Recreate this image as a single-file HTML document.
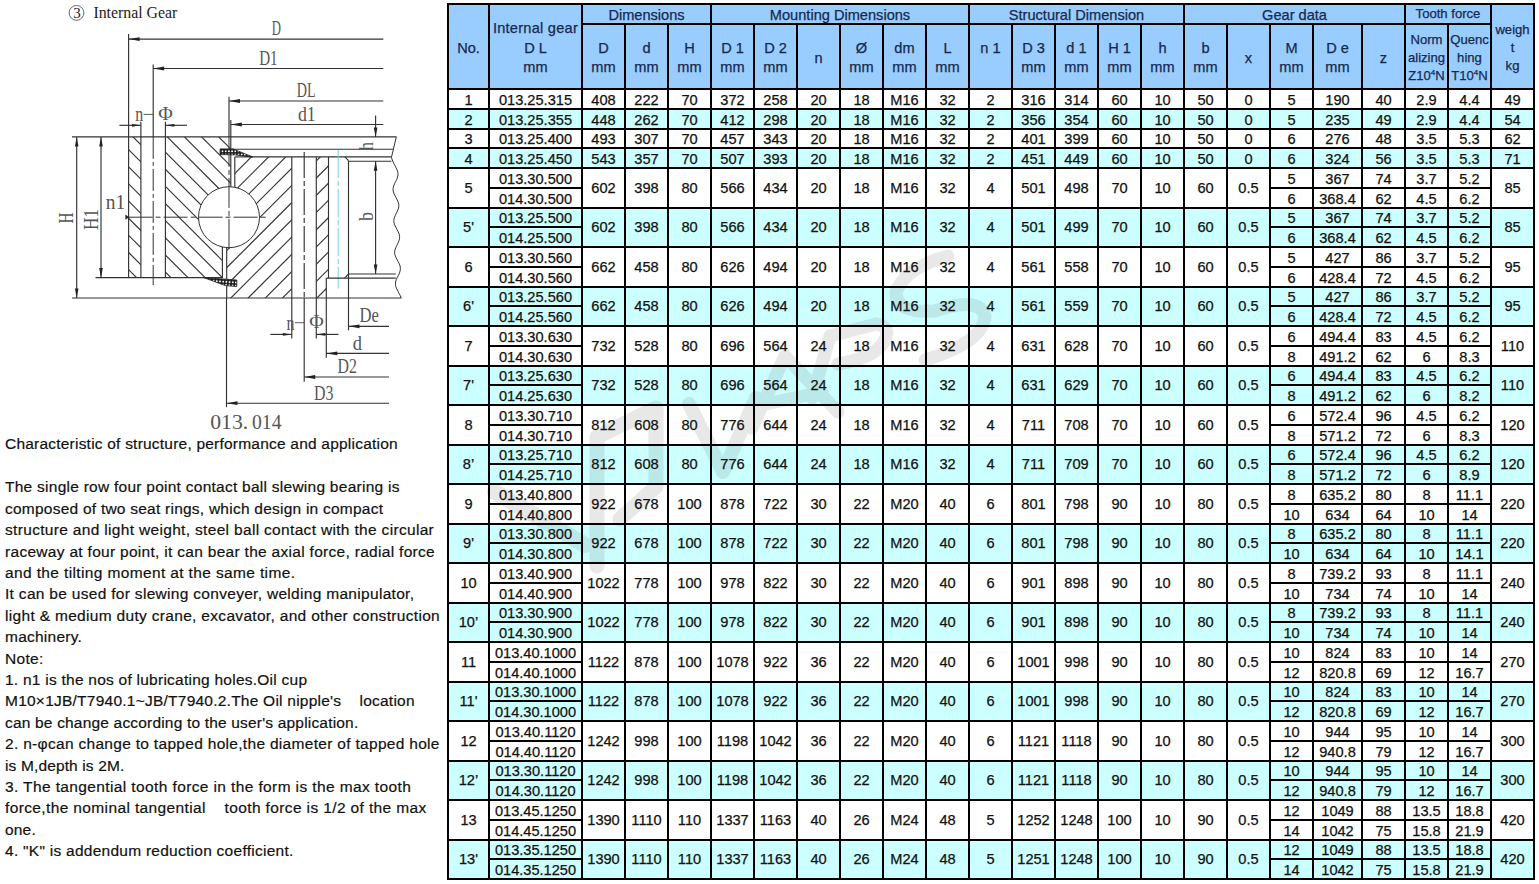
<!DOCTYPE html>
<html><head><meta charset="utf-8"><title>Internal Gear</title>
<style>
html,body{margin:0;padding:0;background:#fff}
body{width:1539px;height:884px;position:relative;overflow:hidden;font-family:"Liberation Sans",sans-serif}
.r{position:absolute}
.c,.h{position:absolute;text-align:center;white-space:nowrap;font-size:14.6px;color:#111;overflow:visible;-webkit-text-stroke:0.25px}
.h{color:#17294b;font-size:14.6px}
.s{font-size:13.1px}
.h sup{font-size:8px;line-height:0;vertical-align:5px}
.p{position:absolute;left:5px;white-space:nowrap;font-size:15.5px;line-height:21.4px;color:#111;-webkit-text-stroke:0.2px}
svg{position:absolute;left:0;top:0}
</style></head><body>
<svg width="447" height="440" viewBox="0 0 447 440"><defs>
<clipPath id="co"><path d="M165.4,136.9 L230.8,136.9 L230.8,186.75 A30.5,30.5 0 0 0 222.4,246.98 L222.4,277.6 L165.4,277.6 Z"/><rect x="128.6" y="136.9" width="12.300000000000011" height="140.70000000000002"/></clipPath>
<clipPath id="ci"><path d="M234.8,156.9 L291.8,156.9 L291.8,298.0 L226.7,298.0 L226.7,247.61 A30.5,30.5 0 0 0 234.8,187.26 Z"/><path d="M316.3,156.9 L328.5,156.9 L328.5,278.1 L326.3,278.1 L326.3,298.0 L316.3,298.0 Z"/></clipPath>
<pattern id="xh" width="3.2" height="3.2" patternUnits="userSpaceOnUse" patternTransform="translate(220.9,149.7)"><rect width="3.2" height="3.2" fill="#1a1a1a"/><circle cx="1.6" cy="1.6" r="0.95" fill="#fff"/></pattern>
<pattern id="xh2" width="3.2" height="3.2" patternUnits="userSpaceOnUse" patternTransform="translate(218.5,279.7) rotate(4)"><rect width="3.2" height="3.2" fill="#1a1a1a"/><circle cx="1.6" cy="1.6" r="0.95" fill="#fff"/></pattern>
</defs>
<g clip-path="url(#co)" stroke="#333" stroke-width="1.15"><line x1="100" y1="-33.2" x2="260" y2="126.8"/><line x1="100" y1="-16.1" x2="260" y2="143.9"/><line x1="100" y1="1.1" x2="260" y2="161.1"/><line x1="100" y1="18.2" x2="260" y2="178.2"/><line x1="100" y1="35.3" x2="260" y2="195.3"/><line x1="100" y1="52.5" x2="260" y2="212.5"/><line x1="100" y1="69.6" x2="260" y2="229.6"/><line x1="100" y1="86.8" x2="260" y2="246.8"/><line x1="100" y1="103.9" x2="260" y2="263.9"/><line x1="100" y1="121.0" x2="260" y2="281.0"/><line x1="100" y1="138.2" x2="260" y2="298.2"/><line x1="100" y1="155.3" x2="260" y2="315.3"/><line x1="100" y1="172.5" x2="260" y2="332.5"/><line x1="100" y1="189.6" x2="260" y2="349.6"/><line x1="100" y1="206.7" x2="260" y2="366.7"/><line x1="100" y1="223.9" x2="260" y2="383.9"/><line x1="100" y1="241.0" x2="260" y2="401.0"/><line x1="100" y1="258.2" x2="260" y2="418.2"/></g>
<g clip-path="url(#ci)" stroke="#333" stroke-width="1.15"><line x1="200" y1="173.9" x2="340" y2="33.9"/><line x1="200" y1="191.1" x2="340" y2="51.1"/><line x1="200" y1="208.3" x2="340" y2="68.3"/><line x1="200" y1="225.5" x2="340" y2="85.5"/><line x1="200" y1="242.7" x2="340" y2="102.7"/><line x1="200" y1="260.0" x2="340" y2="120.0"/><line x1="200" y1="277.2" x2="340" y2="137.2"/><line x1="200" y1="294.4" x2="340" y2="154.4"/><line x1="200" y1="311.6" x2="340" y2="171.6"/><line x1="200" y1="328.8" x2="340" y2="188.8"/><line x1="200" y1="346.1" x2="340" y2="206.1"/><line x1="200" y1="363.3" x2="340" y2="223.3"/><line x1="200" y1="380.5" x2="340" y2="240.5"/><line x1="200" y1="397.7" x2="340" y2="257.7"/><line x1="200" y1="414.9" x2="340" y2="274.9"/><line x1="200" y1="432.2" x2="340" y2="292.2"/><line x1="200" y1="449.4" x2="340" y2="309.4"/><line x1="200" y1="466.6" x2="340" y2="326.6"/></g>
<line x1="72" y1="136.9" x2="396.5" y2="136.9" stroke="#333" stroke-width="1.15" />
<line x1="72" y1="298.0" x2="401.5" y2="298.0" stroke="#333" stroke-width="1.15" />
<line x1="95.5" y1="277.6" x2="222.9" y2="277.6" stroke="#333" stroke-width="1.15" />
<line x1="128.6" y1="34" x2="128.6" y2="277.6" stroke="#333" stroke-width="1.15" />
<line x1="140.9" y1="121.7" x2="140.9" y2="277.6" stroke="#333" stroke-width="1.15" />
<line x1="165.4" y1="121.7" x2="165.4" y2="277.6" stroke="#333" stroke-width="1.15" />
<line x1="153.2" y1="64.4" x2="153.2" y2="136.9" stroke="#333" stroke-width="1.15" />
<line x1="153.2" y1="136.9" x2="153.2" y2="285" stroke="#333" stroke-width="1" stroke-dasharray="22 3 4 3"/>
<line x1="230.8" y1="119.9" x2="230.8" y2="186.75316108361986" stroke="#333" stroke-width="1.15" />
<line x1="234.8" y1="156.9" x2="234.8" y2="187.25655330460435" stroke="#333" stroke-width="1.15" />
<line x1="222.4" y1="246.97734037821377" x2="222.4" y2="277.6" stroke="#333" stroke-width="1.15" />
<line x1="226.7" y1="247.61315504843256" x2="226.7" y2="298.0" stroke="#333" stroke-width="1.15" />
<circle cx="229.0" cy="217.2" r="30.5" fill="none" stroke="#333" stroke-width="1"/>
<line x1="128.6" y1="217.2" x2="267" y2="217.2" stroke="#333" stroke-width="1" stroke-dasharray="24 3 5 3"/>
<line x1="229.0" y1="96.7" x2="229.0" y2="136.9" stroke="#333" stroke-width="1.15" />
<line x1="229.0" y1="136.9" x2="229.0" y2="250" stroke="#333" stroke-width="1" stroke-dasharray="30 3 5 3"/>
<line x1="226.5" y1="298.0" x2="226.5" y2="407" stroke="#333" stroke-width="1.15" />
<line x1="251" y1="156.9" x2="391.4" y2="156.9" stroke="#333" stroke-width="1.15" />
<line x1="234.8" y1="156.9" x2="251" y2="156.9" stroke="#333" stroke-width="1.15" />
<line x1="291.8" y1="156.9" x2="291.8" y2="338.4" stroke="#333" stroke-width="1.15" />
<line x1="316.3" y1="156.9" x2="316.3" y2="338.4" stroke="#333" stroke-width="1.15" />
<line x1="304.2" y1="152" x2="304.2" y2="298.0" stroke="#333" stroke-width="1.15" stroke-dasharray="26 3 5 3"/>
<line x1="304.2" y1="298.0" x2="304.2" y2="381.8" stroke="#333" stroke-width="1.15" />
<line x1="328.5" y1="156.9" x2="328.5" y2="278.1" stroke="#333" stroke-width="1.15" />
<line x1="326.3" y1="278.1" x2="326.3" y2="357.8" stroke="#333" stroke-width="1.15" />
<line x1="338.2" y1="150" x2="338.2" y2="288.5" stroke="#6fd6e6" stroke-width="1" stroke-dasharray="28 3 5 3"/>
<line x1="345" y1="156.9" x2="348.5" y2="160.6" stroke="#333" stroke-width="1.15" />
<line x1="348.5" y1="160.6" x2="348.5" y2="330.3" stroke="#333" stroke-width="1.15" />
<line x1="348.5" y1="161.2" x2="391.4" y2="161.2" stroke="#333" stroke-width="1.15" />
<line x1="232" y1="149.2" x2="393.2" y2="149.2" stroke="#333" stroke-width="1.15" />
<line x1="348.5" y1="274" x2="395.8" y2="274" stroke="#333" stroke-width="1.15" />
<line x1="326.3" y1="278.1" x2="395.8" y2="278.1" stroke="#333" stroke-width="1.15" />
<line x1="344.6" y1="278.1" x2="348.5" y2="274" stroke="#333" stroke-width="1.15" />
<polyline points="396.3,136.9 393.4,149.2 391.4,157.5 392.7,161.0 393.7,163.3 394.9,165.6 396.1,167.8 397.2,170.1 397.9,172.4 398.0,174.7 397.6,177.0 396.8,179.3 395.6,181.6 394.5,183.8 393.6,186.1 393.1,188.4 393.1,190.7 393.7,193.0 394.7,195.2 396.0,197.5 397.2,199.8 398.2,202.1 398.8,204.4 398.8,206.7 398.3,208.9 397.3,211.2 396.2,213.5 395.1,215.8 394.2,218.1 393.8,220.4 394.0,222.7 394.7,224.9 395.8,227.2 397.0,229.5 398.2,231.8 399.2,234.1 399.6,236.4 399.5,238.6 398.9,240.9 397.9,243.2 396.8,245.5 395.7,247.8 394.9,250.1 394.6,252.3 394.9,254.6 395.7,256.9 396.8,259.2 398.1,261.5 399.3,263.8 400.1,266.0 400.4,268.3 400.2,270.6 399.5,272.9 398.5,275.2 397.3,277.4 396.3,279.7 395.6,282.0 395.5,284.3 395.8,286.6 396.7,288.9 397.9,291.1 399.1,293.4 400.3,295.7 401.0,298.0" fill="none" stroke="#333" stroke-width="1"/>
<path d="M220.1,148.9 L233,148.9 L252.7,156.9 L245,156.2 L235.7,154.9 L220.1,154.5 Z" fill="url(#xh)" stroke="#1a1a1a" stroke-width="0.8"/>
<path d="M203.6,277.6 L220.5,278.8 L236.8,280 L236.8,286.5 L225.3,285.6 Z" fill="url(#xh2)" stroke="#1a1a1a" stroke-width="0.8"/>
<line x1="76.7" y1="136.9" x2="76.7" y2="298.0" stroke="#333" stroke-width="1.15" />
<polygon points="76.7,136.9 74.9,146.4 78.5,146.4" fill="#222"/>
<polygon points="76.7,298.0 74.9,288.5 78.5,288.5" fill="#222"/>
<line x1="101" y1="136.9" x2="101" y2="277.6" stroke="#333" stroke-width="1.15" />
<polygon points="101,136.9 99.2,146.4 102.8,146.4" fill="#222"/>
<polygon points="101,277.6 99.2,268.1 102.8,268.1" fill="#222"/>
<line x1="128.6" y1="39.1" x2="383.3" y2="39.1" stroke="#333" stroke-width="1.15" />
<polygon points="128.6,39.1 139.6,37.2 139.6,41.0" fill="#222"/>
<line x1="153.2" y1="68.5" x2="383.3" y2="68.5" stroke="#333" stroke-width="1.15" />
<polygon points="153.2,68.5 164.2,66.6 164.2,70.4" fill="#222"/>
<line x1="229.0" y1="101" x2="383.3" y2="101" stroke="#333" stroke-width="1.15" />
<polygon points="229.0,101 240.0,99.1 240.0,102.9" fill="#222"/>
<line x1="230.8" y1="124.5" x2="383.3" y2="124.5" stroke="#333" stroke-width="1.15" />
<polygon points="230.8,124.5 241.8,122.6 241.8,126.4" fill="#222"/>
<line x1="375.6" y1="115.5" x2="375.6" y2="136.9" stroke="#333" stroke-width="1.15" />
<polygon points="375.6,136.9 373.8,127.4 377.40000000000003,127.4" fill="#222"/>
<line x1="375.6" y1="161.2" x2="375.6" y2="274" stroke="#333" stroke-width="1.15" />
<polygon points="375.6,161.2 373.8,170.7 377.40000000000003,170.7" fill="#222"/>
<polygon points="375.6,274 373.8,264.5 377.40000000000003,264.5" fill="#222"/>
<line x1="119.4" y1="125.3" x2="140.9" y2="125.3" stroke="#333" stroke-width="1.15" />
<polygon points="140.9,125.3 131.9,123.89999999999999 131.9,126.7" fill="#222"/>
<line x1="165.4" y1="125.3" x2="187" y2="125.3" stroke="#333" stroke-width="1.15" />
<polygon points="165.4,125.3 174.4,123.89999999999999 174.4,126.7" fill="#222"/>
<line x1="143.5" y1="114.4" x2="153" y2="114.4" stroke="#333" stroke-width="0.8" />
<line x1="270.3" y1="334.4" x2="291.8" y2="334.4" stroke="#333" stroke-width="1.15" />
<polygon points="291.8,334.4 282.8,333.0 282.8,335.79999999999995" fill="#222"/>
<line x1="316.3" y1="334.4" x2="338.5" y2="334.4" stroke="#333" stroke-width="1.15" />
<polygon points="316.3,334.4 325.3,333.0 325.3,335.79999999999995" fill="#222"/>
<line x1="295" y1="322.7" x2="304" y2="322.7" stroke="#333" stroke-width="0.8" />
<line x1="348.5" y1="326.3" x2="389" y2="326.3" stroke="#333" stroke-width="1.15" />
<polygon points="348.5,326.3 359.5,324.40000000000003 359.5,328.2" fill="#222"/>
<line x1="326.3" y1="353.4" x2="389" y2="353.4" stroke="#333" stroke-width="1.15" />
<polygon points="326.3,353.4 337.3,351.5 337.3,355.29999999999995" fill="#222"/>
<line x1="304.2" y1="377" x2="389" y2="377" stroke="#333" stroke-width="1.15" />
<polygon points="304.2,377 315.2,375.1 315.2,378.9" fill="#222"/>
<line x1="226.5" y1="403.2" x2="389" y2="403.2" stroke="#333" stroke-width="1.15" />
<polygon points="226.5,403.2 237.5,401.3 237.5,405.09999999999997" fill="#222"/>
<polygon points="129.1,217.2 125.39999999999999,214.6 125.39999999999999,219.79999999999998" fill="#222"/>
<text x="271.7" y="34.6" font-family="Liberation Serif" font-size="20" fill="#555" text-anchor="start" textLength="9.2" lengthAdjust="spacingAndGlyphs">D</text>
<text x="259.2" y="64.8" font-family="Liberation Serif" font-size="20" fill="#555" text-anchor="start" textLength="18.4" lengthAdjust="spacingAndGlyphs">D1</text>
<text x="296.8" y="97.1" font-family="Liberation Serif" font-size="20" fill="#555" text-anchor="start" textLength="18.8" lengthAdjust="spacingAndGlyphs">DL</text>
<text x="297.9" y="121" font-family="Liberation Serif" font-size="20" fill="#555" text-anchor="start" textLength="17.8" lengthAdjust="spacingAndGlyphs">d1</text>
<text x="135.3" y="120.5" font-family="Liberation Serif" font-size="20" fill="#555" text-anchor="start" textLength="8" lengthAdjust="spacingAndGlyphs">n</text>
<text x="158.3" y="120" font-family="Liberation Serif" font-size="19" fill="#555" text-anchor="start" textLength="14.5" lengthAdjust="spacingAndGlyphs">Φ</text>
<text x="286.6" y="330" font-family="Liberation Serif" font-size="20" fill="#555" text-anchor="start" textLength="8" lengthAdjust="spacingAndGlyphs">n</text>
<text x="309.2" y="328.3" font-family="Liberation Serif" font-size="19" fill="#555" text-anchor="start" textLength="14.5" lengthAdjust="spacingAndGlyphs">Φ</text>
<text x="359.5" y="322.1" font-family="Liberation Serif" font-size="20" fill="#555" text-anchor="start" textLength="19.4" lengthAdjust="spacingAndGlyphs">De</text>
<text x="352.8" y="349.6" font-family="Liberation Serif" font-size="20" fill="#555" text-anchor="start" textLength="9.2" lengthAdjust="spacingAndGlyphs">d</text>
<text x="337.5" y="373" font-family="Liberation Serif" font-size="20" fill="#555" text-anchor="start" textLength="19.4" lengthAdjust="spacingAndGlyphs">D2</text>
<text x="314" y="399.5" font-family="Liberation Serif" font-size="20" fill="#555" text-anchor="start" textLength="19.4" lengthAdjust="spacingAndGlyphs">D3</text>
<text x="105.8" y="209" font-family="Liberation Serif" font-size="20" fill="#555" text-anchor="start" textLength="19.5" lengthAdjust="spacingAndGlyphs">n1</text>
<text x="210.2" y="428.7" font-family="Liberation Serif" font-size="20" fill="#555" text-anchor="start" textLength="38" lengthAdjust="spacingAndGlyphs">013.</text>
<text x="252" y="428.7" font-family="Liberation Serif" font-size="20" fill="#555" text-anchor="start" textLength="29.5" lengthAdjust="spacingAndGlyphs">014</text>
<text x="72.6" y="223.5" font-family="Liberation Serif" font-size="20" fill="#555" text-anchor="start" textLength="11" lengthAdjust="spacingAndGlyphs" transform="rotate(-90 72.6 223.5)">H</text>
<text x="97.5" y="230" font-family="Liberation Serif" font-size="20" fill="#555" text-anchor="start" textLength="21" lengthAdjust="spacingAndGlyphs" transform="rotate(-90 97.5 230)">H1</text>
<text x="372.5" y="221" font-family="Liberation Serif" font-size="20" fill="#555" text-anchor="start" textLength="9" lengthAdjust="spacingAndGlyphs" transform="rotate(-90 372.5 221)">b</text>
<text x="372.8" y="150.5" font-family="Liberation Serif" font-size="20" fill="#555" text-anchor="start" textLength="8.5" lengthAdjust="spacingAndGlyphs" transform="rotate(-90 372.8 150.5)">h</text>
<circle cx="76.5" cy="12.9" r="7.4" fill="none" stroke="#444" stroke-width="0.8"/>
<text x="76.9" y="17.9" font-family="Liberation Serif" font-size="15" fill="#222" text-anchor="middle">3</text>
<text x="93.4" y="17.8" font-family="Liberation Serif" font-size="16" fill="#222" text-anchor="start" textLength="84" lengthAdjust="spacingAndGlyphs">Internal Gear</text></svg>
<div class="p" id="p0" style="top:433.3px;letter-spacing:0.215px">Characteristic of structure, performance and application</div>
<div class="p" id="p1" style="top:476.3px;letter-spacing:0.258px">The single row four point contact ball slewing bearing is</div>
<div class="p" id="p2" style="top:497.7px;letter-spacing:0.237px">composed of two seat rings, which design in compact</div>
<div class="p" id="p3" style="top:519.1px;letter-spacing:0.324px">structure and light weight, steel ball contact with the circular</div>
<div class="p" id="p4" style="top:540.5px;letter-spacing:0.297px">raceway at four point, it can bear the axial force, radial force</div>
<div class="p" id="p5" style="top:561.9px;letter-spacing:0.367px">and the tilting moment at the same time.</div>
<div class="p" id="p6" style="top:583.3px;letter-spacing:0.303px">It can be used for slewing conveyer, welding manipulator,</div>
<div class="p" id="p7" style="top:604.7px;letter-spacing:0.315px">light &amp; medium duty crane, excavator, and other construction</div>
<div class="p" id="p8" style="top:626.1px;letter-spacing:0.238px">machinery.</div>
<div class="p" id="p9" style="top:647.5px;letter-spacing:0.310px">Note:</div>
<div class="p" id="p10" style="top:668.9px;letter-spacing:0.245px">1. n1 is the nos of lubricating holes.Oil cup</div>
<div class="p" id="p11" style="top:690.3px;letter-spacing:0.238px">M10×1JB/T7940.1~JB/T7940.2.The Oil nipple's&nbsp;&nbsp;&nbsp; location</div>
<div class="p" id="p12" style="top:711.7px;letter-spacing:0.184px">can be change according to the user's application.</div>
<div class="p" id="p13" style="top:733.1px;letter-spacing:0.305px">2. n-φcan change to tapped hole,the diameter of tapped hole</div>
<div class="p" id="p14" style="top:754.5px;letter-spacing:0.134px">is M,depth is 2M.</div>
<div class="p" id="p15" style="top:775.9px;letter-spacing:0.382px">3. The tangential tooth force in the form is the max tooth</div>
<div class="p" id="p16" style="top:797.3px;letter-spacing:0.373px">force,the nominal tangential&nbsp;&nbsp;&nbsp; tooth force is 1/2 of the max</div>
<div class="p" id="p17" style="top:818.7px;letter-spacing:0.176px">one.</div>
<div class="p" id="p18" style="top:840.1px;letter-spacing:0.262px">4. "K" is addendum reduction coefficient.</div>
<div class="r" style="left:447px;top:3px;width:1088px;height:85px;background:#99ccff"></div>
<div class="r" style="left:447px;top:88px;width:1088px;height:20px;background:#ffffff"></div>
<div class="r" style="left:447px;top:108px;width:1088px;height:20px;background:#ccffff"></div>
<div class="r" style="left:447px;top:128px;width:1088px;height:19px;background:#ffffff"></div>
<div class="r" style="left:447px;top:147px;width:1088px;height:20px;background:#ccffff"></div>
<div class="r" style="left:447px;top:167px;width:1088px;height:40px;background:#ffffff"></div>
<div class="r" style="left:447px;top:207px;width:1088px;height:39px;background:#ccffff"></div>
<div class="r" style="left:447px;top:246px;width:1088px;height:40px;background:#ffffff"></div>
<div class="r" style="left:447px;top:286px;width:1088px;height:39px;background:#ccffff"></div>
<div class="r" style="left:447px;top:325px;width:1088px;height:40px;background:#ffffff"></div>
<div class="r" style="left:447px;top:365px;width:1088px;height:39px;background:#ccffff"></div>
<div class="r" style="left:447px;top:404px;width:1088px;height:40px;background:#ffffff"></div>
<div class="r" style="left:447px;top:444px;width:1088px;height:39px;background:#ccffff"></div>
<div class="r" style="left:447px;top:483px;width:1088px;height:40px;background:#ffffff"></div>
<div class="r" style="left:447px;top:523px;width:1088px;height:39px;background:#ccffff"></div>
<div class="r" style="left:447px;top:562px;width:1088px;height:40px;background:#ffffff"></div>
<div class="r" style="left:447px;top:602px;width:1088px;height:39px;background:#ccffff"></div>
<div class="r" style="left:447px;top:641px;width:1088px;height:40px;background:#ffffff"></div>
<div class="r" style="left:447px;top:681px;width:1088px;height:39px;background:#ccffff"></div>
<div class="r" style="left:447px;top:720px;width:1088px;height:40px;background:#ffffff"></div>
<div class="r" style="left:447px;top:760px;width:1088px;height:39px;background:#ccffff"></div>
<div class="r" style="left:447px;top:799px;width:1088px;height:40px;background:#ffffff"></div>
<div class="r" style="left:447px;top:839px;width:1088px;height:39px;background:#ccffff"></div>
<svg width="1539" height="884" viewBox="0 0 1539 884" style="pointer-events:none"><g opacity="0.115" fill="none" stroke="#404040" stroke-linecap="round" stroke-linejoin="round"><path d="M495,492 L585,545" stroke-width="16"/><path d="M597,566 L597,437 L656,408 L656,487 L620,519" stroke-width="15"/><path d="M689,404 L723,472 L756,398" stroke-width="14"/><path d="M752,428 L785,356 L838,412 M766,404 L822,392" stroke-width="13"/><path d="M812,398 L830,336 L876,324 Q892,326 884,342 Q874,358 838,364" stroke-width="13"/><path d="M948,256 Q905,268 896,292 Q896,314 935,311 Q980,296 985,316 Q984,342 925,360" stroke-width="13"/></g></svg>
<div class="r" style="left:447px;top:3px;width:1088px;height:2px;background:#000"></div>
<div class="r" style="left:581px;top:23px;width:909px;height:2px;background:#000"></div>
<div class="r" style="left:447px;top:88px;width:1088px;height:2px;background:#000"></div>
<div class="r" style="left:447px;top:108px;width:1088px;height:2px;background:#000"></div>
<div class="r" style="left:447px;top:128px;width:1088px;height:2px;background:#000"></div>
<div class="r" style="left:447px;top:147px;width:1088px;height:2px;background:#000"></div>
<div class="r" style="left:447px;top:167px;width:1088px;height:2px;background:#000"></div>
<div class="r" style="left:488px;top:187px;width:93px;height:2px;background:#000"></div>
<div class="r" style="left:1269px;top:187px;width:221px;height:2px;background:#000"></div>
<div class="r" style="left:447px;top:207px;width:1088px;height:2px;background:#000"></div>
<div class="r" style="left:488px;top:226px;width:93px;height:2px;background:#000"></div>
<div class="r" style="left:1269px;top:226px;width:221px;height:2px;background:#000"></div>
<div class="r" style="left:447px;top:246px;width:1088px;height:2px;background:#000"></div>
<div class="r" style="left:488px;top:266px;width:93px;height:2px;background:#000"></div>
<div class="r" style="left:1269px;top:266px;width:221px;height:2px;background:#000"></div>
<div class="r" style="left:447px;top:286px;width:1088px;height:2px;background:#000"></div>
<div class="r" style="left:488px;top:305px;width:93px;height:2px;background:#000"></div>
<div class="r" style="left:1269px;top:305px;width:221px;height:2px;background:#000"></div>
<div class="r" style="left:447px;top:325px;width:1088px;height:2px;background:#000"></div>
<div class="r" style="left:488px;top:345px;width:93px;height:2px;background:#000"></div>
<div class="r" style="left:1269px;top:345px;width:221px;height:2px;background:#000"></div>
<div class="r" style="left:447px;top:365px;width:1088px;height:2px;background:#000"></div>
<div class="r" style="left:488px;top:384px;width:93px;height:2px;background:#000"></div>
<div class="r" style="left:1269px;top:384px;width:221px;height:2px;background:#000"></div>
<div class="r" style="left:447px;top:404px;width:1088px;height:2px;background:#000"></div>
<div class="r" style="left:488px;top:424px;width:93px;height:2px;background:#000"></div>
<div class="r" style="left:1269px;top:424px;width:221px;height:2px;background:#000"></div>
<div class="r" style="left:447px;top:444px;width:1088px;height:2px;background:#000"></div>
<div class="r" style="left:488px;top:463px;width:93px;height:2px;background:#000"></div>
<div class="r" style="left:1269px;top:463px;width:221px;height:2px;background:#000"></div>
<div class="r" style="left:447px;top:483px;width:1088px;height:2px;background:#000"></div>
<div class="r" style="left:488px;top:503px;width:93px;height:2px;background:#000"></div>
<div class="r" style="left:1269px;top:503px;width:221px;height:2px;background:#000"></div>
<div class="r" style="left:447px;top:523px;width:1088px;height:2px;background:#000"></div>
<div class="r" style="left:488px;top:542px;width:93px;height:2px;background:#000"></div>
<div class="r" style="left:1269px;top:542px;width:221px;height:2px;background:#000"></div>
<div class="r" style="left:447px;top:562px;width:1088px;height:2px;background:#000"></div>
<div class="r" style="left:488px;top:582px;width:93px;height:2px;background:#000"></div>
<div class="r" style="left:1269px;top:582px;width:221px;height:2px;background:#000"></div>
<div class="r" style="left:447px;top:602px;width:1088px;height:2px;background:#000"></div>
<div class="r" style="left:488px;top:621px;width:93px;height:2px;background:#000"></div>
<div class="r" style="left:1269px;top:621px;width:221px;height:2px;background:#000"></div>
<div class="r" style="left:447px;top:641px;width:1088px;height:2px;background:#000"></div>
<div class="r" style="left:488px;top:661px;width:93px;height:2px;background:#000"></div>
<div class="r" style="left:1269px;top:661px;width:221px;height:2px;background:#000"></div>
<div class="r" style="left:447px;top:681px;width:1088px;height:2px;background:#000"></div>
<div class="r" style="left:488px;top:700px;width:93px;height:2px;background:#000"></div>
<div class="r" style="left:1269px;top:700px;width:221px;height:2px;background:#000"></div>
<div class="r" style="left:447px;top:720px;width:1088px;height:2px;background:#000"></div>
<div class="r" style="left:488px;top:740px;width:93px;height:2px;background:#000"></div>
<div class="r" style="left:1269px;top:740px;width:221px;height:2px;background:#000"></div>
<div class="r" style="left:447px;top:760px;width:1088px;height:2px;background:#000"></div>
<div class="r" style="left:488px;top:779px;width:93px;height:2px;background:#000"></div>
<div class="r" style="left:1269px;top:779px;width:221px;height:2px;background:#000"></div>
<div class="r" style="left:447px;top:799px;width:1088px;height:2px;background:#000"></div>
<div class="r" style="left:488px;top:819px;width:93px;height:2px;background:#000"></div>
<div class="r" style="left:1269px;top:819px;width:221px;height:2px;background:#000"></div>
<div class="r" style="left:447px;top:839px;width:1088px;height:2px;background:#000"></div>
<div class="r" style="left:488px;top:858px;width:93px;height:2px;background:#000"></div>
<div class="r" style="left:1269px;top:858px;width:221px;height:2px;background:#000"></div>
<div class="r" style="left:447px;top:878px;width:1088px;height:2px;background:#000"></div>
<div class="r" style="left:447px;top:3px;width:2px;height:877px;background:#000"></div>
<div class="r" style="left:488px;top:3px;width:2px;height:877px;background:#000"></div>
<div class="r" style="left:581px;top:3px;width:2px;height:877px;background:#000"></div>
<div class="r" style="left:624px;top:23px;width:2px;height:857px;background:#000"></div>
<div class="r" style="left:667px;top:23px;width:2px;height:857px;background:#000"></div>
<div class="r" style="left:710px;top:3px;width:2px;height:877px;background:#000"></div>
<div class="r" style="left:753px;top:23px;width:2px;height:857px;background:#000"></div>
<div class="r" style="left:796px;top:23px;width:2px;height:857px;background:#000"></div>
<div class="r" style="left:839px;top:23px;width:2px;height:857px;background:#000"></div>
<div class="r" style="left:882px;top:23px;width:2px;height:857px;background:#000"></div>
<div class="r" style="left:925px;top:23px;width:2px;height:857px;background:#000"></div>
<div class="r" style="left:968px;top:3px;width:2px;height:877px;background:#000"></div>
<div class="r" style="left:1011px;top:23px;width:2px;height:857px;background:#000"></div>
<div class="r" style="left:1054px;top:23px;width:2px;height:857px;background:#000"></div>
<div class="r" style="left:1097px;top:23px;width:2px;height:857px;background:#000"></div>
<div class="r" style="left:1140px;top:23px;width:2px;height:857px;background:#000"></div>
<div class="r" style="left:1183px;top:3px;width:2px;height:877px;background:#000"></div>
<div class="r" style="left:1226px;top:23px;width:2px;height:857px;background:#000"></div>
<div class="r" style="left:1269px;top:23px;width:2px;height:857px;background:#000"></div>
<div class="r" style="left:1312px;top:23px;width:2px;height:857px;background:#000"></div>
<div class="r" style="left:1361px;top:23px;width:2px;height:857px;background:#000"></div>
<div class="r" style="left:1404px;top:3px;width:2px;height:877px;background:#000"></div>
<div class="r" style="left:1447px;top:23px;width:2px;height:857px;background:#000"></div>
<div class="r" style="left:1490px;top:3px;width:2px;height:877px;background:#000"></div>
<div class="r" style="left:1533px;top:3px;width:2px;height:877px;background:#000"></div>
<div class="h" style="left:583px;top:6px;width:127px;height:18px;line-height:18px">Dimensions</div>
<div class="h" style="left:712px;top:6px;width:256px;height:18px;line-height:18px">Mounting Dimensions</div>
<div class="h" style="left:970px;top:6px;width:213px;height:18px;line-height:18px">Structural Dimension</div>
<div class="h" style="left:1185px;top:6px;width:219px;height:18px;line-height:18px">Gear data</div>
<div class="h s" style="left:1406px;top:5px;width:84px;height:18px;line-height:18px">Tooth force</div>
<div class="h" style="left:449px;top:39.4px;width:39px;line-height:19px">No.</div>
<div class="h" style="left:490px;top:20.4px;width:91px;line-height:19px"><span style="letter-spacing:0.25px;position:relative;top:-1px">Internal gear</span><br>D L<br>mm</div>
<div class="h" style="left:583px;top:38.7px;width:41px;line-height:19.2px">D<br>mm</div>
<div class="h" style="left:626px;top:38.7px;width:41px;line-height:19.2px">d<br>mm</div>
<div class="h" style="left:669px;top:38.7px;width:41px;line-height:19.2px">H<br>mm</div>
<div class="h" style="left:712px;top:38.7px;width:41px;line-height:19.2px">D 1<br>mm</div>
<div class="h" style="left:755px;top:38.7px;width:41px;line-height:19.2px">D 2<br>mm</div>
<div class="h" style="left:798px;top:49.3px;width:41px;line-height:19.2px">n</div>
<div class="h" style="left:841px;top:38.7px;width:41px;line-height:19.2px">Ø<br>mm</div>
<div class="h" style="left:884px;top:38.7px;width:41px;line-height:19.2px">dm<br>mm</div>
<div class="h" style="left:927px;top:38.7px;width:41px;line-height:19.2px">L<br>mm</div>
<div class="h" style="left:970px;top:38.7px;width:41px;line-height:19.2px">n 1<br>&nbsp;</div>
<div class="h" style="left:1013px;top:38.7px;width:41px;line-height:19.2px">D 3<br>mm</div>
<div class="h" style="left:1056px;top:38.7px;width:41px;line-height:19.2px">d 1<br>mm</div>
<div class="h" style="left:1099px;top:38.7px;width:41px;line-height:19.2px">H 1<br>mm</div>
<div class="h" style="left:1142px;top:38.7px;width:41px;line-height:19.2px">h<br>mm</div>
<div class="h" style="left:1185px;top:38.7px;width:41px;line-height:19.2px">b<br>mm</div>
<div class="h" style="left:1228px;top:49.3px;width:41px;line-height:19.2px">x</div>
<div class="h" style="left:1271px;top:38.7px;width:41px;line-height:19.2px">M<br>mm</div>
<div class="h" style="left:1314px;top:38.7px;width:47px;line-height:19.2px">D e<br>mm</div>
<div class="h" style="left:1363px;top:49.3px;width:41px;line-height:19.2px">z</div>
<div class="h s" style="left:1406px;top:30.9px;width:41px;line-height:18.3px">Norm<br>alizing<br>Z10<sup>4</sup>N</div>
<div class="h s" style="left:1449px;top:30.9px;width:41px;line-height:18.3px">Quenc<br>hing<br>T10<sup>4</sup>N</div>
<div class="h s" style="left:1492px;top:20.9px;width:41px;line-height:18.3px">weigh<br>t<br>kg</div>
<div class="c" style="left:449px;top:91px;width:39px;height:18px;line-height:18px">1</div>
<div class="c" style="left:490px;top:91px;width:91px;height:18px;line-height:18px">013.25.315</div>
<div class="c" style="left:1271px;top:91px;width:41px;height:18px;line-height:18px">5</div>
<div class="c" style="left:1314px;top:91px;width:47px;height:18px;line-height:18px">190</div>
<div class="c" style="left:1363px;top:91px;width:41px;height:18px;line-height:18px">40</div>
<div class="c" style="left:1406px;top:91px;width:41px;height:18px;line-height:18px">2.9</div>
<div class="c" style="left:1449px;top:91px;width:41px;height:18px;line-height:18px">4.4</div>
<div class="c" style="left:583px;top:91px;width:41px;height:18px;line-height:18px">408</div>
<div class="c" style="left:626px;top:91px;width:41px;height:18px;line-height:18px">222</div>
<div class="c" style="left:669px;top:91px;width:41px;height:18px;line-height:18px">70</div>
<div class="c" style="left:712px;top:91px;width:41px;height:18px;line-height:18px">372</div>
<div class="c" style="left:755px;top:91px;width:41px;height:18px;line-height:18px">258</div>
<div class="c" style="left:798px;top:91px;width:41px;height:18px;line-height:18px">20</div>
<div class="c" style="left:841px;top:91px;width:41px;height:18px;line-height:18px">18</div>
<div class="c" style="left:884px;top:91px;width:41px;height:18px;line-height:18px">M16</div>
<div class="c" style="left:927px;top:91px;width:41px;height:18px;line-height:18px">32</div>
<div class="c" style="left:970px;top:91px;width:41px;height:18px;line-height:18px">2</div>
<div class="c" style="left:1013px;top:91px;width:41px;height:18px;line-height:18px">316</div>
<div class="c" style="left:1056px;top:91px;width:41px;height:18px;line-height:18px">314</div>
<div class="c" style="left:1099px;top:91px;width:41px;height:18px;line-height:18px">60</div>
<div class="c" style="left:1142px;top:91px;width:41px;height:18px;line-height:18px">10</div>
<div class="c" style="left:1185px;top:91px;width:41px;height:18px;line-height:18px">50</div>
<div class="c" style="left:1228px;top:91px;width:41px;height:18px;line-height:18px">0</div>
<div class="c" style="left:1492px;top:91px;width:41px;height:18px;line-height:18px">49</div>
<div class="c" style="left:449px;top:111px;width:39px;height:18px;line-height:18px">2</div>
<div class="c" style="left:490px;top:111px;width:91px;height:18px;line-height:18px">013.25.355</div>
<div class="c" style="left:1271px;top:111px;width:41px;height:18px;line-height:18px">5</div>
<div class="c" style="left:1314px;top:111px;width:47px;height:18px;line-height:18px">235</div>
<div class="c" style="left:1363px;top:111px;width:41px;height:18px;line-height:18px">49</div>
<div class="c" style="left:1406px;top:111px;width:41px;height:18px;line-height:18px">2.9</div>
<div class="c" style="left:1449px;top:111px;width:41px;height:18px;line-height:18px">4.4</div>
<div class="c" style="left:583px;top:111px;width:41px;height:18px;line-height:18px">448</div>
<div class="c" style="left:626px;top:111px;width:41px;height:18px;line-height:18px">262</div>
<div class="c" style="left:669px;top:111px;width:41px;height:18px;line-height:18px">70</div>
<div class="c" style="left:712px;top:111px;width:41px;height:18px;line-height:18px">412</div>
<div class="c" style="left:755px;top:111px;width:41px;height:18px;line-height:18px">298</div>
<div class="c" style="left:798px;top:111px;width:41px;height:18px;line-height:18px">20</div>
<div class="c" style="left:841px;top:111px;width:41px;height:18px;line-height:18px">18</div>
<div class="c" style="left:884px;top:111px;width:41px;height:18px;line-height:18px">M16</div>
<div class="c" style="left:927px;top:111px;width:41px;height:18px;line-height:18px">32</div>
<div class="c" style="left:970px;top:111px;width:41px;height:18px;line-height:18px">2</div>
<div class="c" style="left:1013px;top:111px;width:41px;height:18px;line-height:18px">356</div>
<div class="c" style="left:1056px;top:111px;width:41px;height:18px;line-height:18px">354</div>
<div class="c" style="left:1099px;top:111px;width:41px;height:18px;line-height:18px">60</div>
<div class="c" style="left:1142px;top:111px;width:41px;height:18px;line-height:18px">10</div>
<div class="c" style="left:1185px;top:111px;width:41px;height:18px;line-height:18px">50</div>
<div class="c" style="left:1228px;top:111px;width:41px;height:18px;line-height:18px">0</div>
<div class="c" style="left:1492px;top:111px;width:41px;height:18px;line-height:18px">54</div>
<div class="c" style="left:449px;top:131px;width:39px;height:17px;line-height:17px">3</div>
<div class="c" style="left:490px;top:131px;width:91px;height:17px;line-height:17px">013.25.400</div>
<div class="c" style="left:1271px;top:131px;width:41px;height:17px;line-height:17px">6</div>
<div class="c" style="left:1314px;top:131px;width:47px;height:17px;line-height:17px">276</div>
<div class="c" style="left:1363px;top:131px;width:41px;height:17px;line-height:17px">48</div>
<div class="c" style="left:1406px;top:131px;width:41px;height:17px;line-height:17px">3.5</div>
<div class="c" style="left:1449px;top:131px;width:41px;height:17px;line-height:17px">5.3</div>
<div class="c" style="left:583px;top:131px;width:41px;height:17px;line-height:17px">493</div>
<div class="c" style="left:626px;top:131px;width:41px;height:17px;line-height:17px">307</div>
<div class="c" style="left:669px;top:131px;width:41px;height:17px;line-height:17px">70</div>
<div class="c" style="left:712px;top:131px;width:41px;height:17px;line-height:17px">457</div>
<div class="c" style="left:755px;top:131px;width:41px;height:17px;line-height:17px">343</div>
<div class="c" style="left:798px;top:131px;width:41px;height:17px;line-height:17px">20</div>
<div class="c" style="left:841px;top:131px;width:41px;height:17px;line-height:17px">18</div>
<div class="c" style="left:884px;top:131px;width:41px;height:17px;line-height:17px">M16</div>
<div class="c" style="left:927px;top:131px;width:41px;height:17px;line-height:17px">32</div>
<div class="c" style="left:970px;top:131px;width:41px;height:17px;line-height:17px">2</div>
<div class="c" style="left:1013px;top:131px;width:41px;height:17px;line-height:17px">401</div>
<div class="c" style="left:1056px;top:131px;width:41px;height:17px;line-height:17px">399</div>
<div class="c" style="left:1099px;top:131px;width:41px;height:17px;line-height:17px">60</div>
<div class="c" style="left:1142px;top:131px;width:41px;height:17px;line-height:17px">10</div>
<div class="c" style="left:1185px;top:131px;width:41px;height:17px;line-height:17px">50</div>
<div class="c" style="left:1228px;top:131px;width:41px;height:17px;line-height:17px">0</div>
<div class="c" style="left:1492px;top:131px;width:41px;height:17px;line-height:17px">62</div>
<div class="c" style="left:449px;top:150px;width:39px;height:18px;line-height:18px">4</div>
<div class="c" style="left:490px;top:150px;width:91px;height:18px;line-height:18px">013.25.450</div>
<div class="c" style="left:1271px;top:150px;width:41px;height:18px;line-height:18px">6</div>
<div class="c" style="left:1314px;top:150px;width:47px;height:18px;line-height:18px">324</div>
<div class="c" style="left:1363px;top:150px;width:41px;height:18px;line-height:18px">56</div>
<div class="c" style="left:1406px;top:150px;width:41px;height:18px;line-height:18px">3.5</div>
<div class="c" style="left:1449px;top:150px;width:41px;height:18px;line-height:18px">5.3</div>
<div class="c" style="left:583px;top:150px;width:41px;height:18px;line-height:18px">543</div>
<div class="c" style="left:626px;top:150px;width:41px;height:18px;line-height:18px">357</div>
<div class="c" style="left:669px;top:150px;width:41px;height:18px;line-height:18px">70</div>
<div class="c" style="left:712px;top:150px;width:41px;height:18px;line-height:18px">507</div>
<div class="c" style="left:755px;top:150px;width:41px;height:18px;line-height:18px">393</div>
<div class="c" style="left:798px;top:150px;width:41px;height:18px;line-height:18px">20</div>
<div class="c" style="left:841px;top:150px;width:41px;height:18px;line-height:18px">18</div>
<div class="c" style="left:884px;top:150px;width:41px;height:18px;line-height:18px">M16</div>
<div class="c" style="left:927px;top:150px;width:41px;height:18px;line-height:18px">32</div>
<div class="c" style="left:970px;top:150px;width:41px;height:18px;line-height:18px">2</div>
<div class="c" style="left:1013px;top:150px;width:41px;height:18px;line-height:18px">451</div>
<div class="c" style="left:1056px;top:150px;width:41px;height:18px;line-height:18px">449</div>
<div class="c" style="left:1099px;top:150px;width:41px;height:18px;line-height:18px">60</div>
<div class="c" style="left:1142px;top:150px;width:41px;height:18px;line-height:18px">10</div>
<div class="c" style="left:1185px;top:150px;width:41px;height:18px;line-height:18px">50</div>
<div class="c" style="left:1228px;top:150px;width:41px;height:18px;line-height:18px">0</div>
<div class="c" style="left:1492px;top:150px;width:41px;height:18px;line-height:18px">71</div>
<div class="c" style="left:449px;top:169px;width:39px;height:38px;line-height:38px">5</div>
<div class="c" style="left:490px;top:170px;width:91px;height:18px;line-height:18px">013.30.500</div>
<div class="c" style="left:1271px;top:170px;width:41px;height:18px;line-height:18px">5</div>
<div class="c" style="left:1314px;top:170px;width:47px;height:18px;line-height:18px">367</div>
<div class="c" style="left:1363px;top:170px;width:41px;height:18px;line-height:18px">74</div>
<div class="c" style="left:1406px;top:170px;width:41px;height:18px;line-height:18px">3.7</div>
<div class="c" style="left:1449px;top:170px;width:41px;height:18px;line-height:18px">5.2</div>
<div class="c" style="left:490px;top:190px;width:91px;height:18px;line-height:18px">014.30.500</div>
<div class="c" style="left:1271px;top:190px;width:41px;height:18px;line-height:18px">6</div>
<div class="c" style="left:1314px;top:190px;width:47px;height:18px;line-height:18px">368.4</div>
<div class="c" style="left:1363px;top:190px;width:41px;height:18px;line-height:18px">62</div>
<div class="c" style="left:1406px;top:190px;width:41px;height:18px;line-height:18px">4.5</div>
<div class="c" style="left:1449px;top:190px;width:41px;height:18px;line-height:18px">6.2</div>
<div class="c" style="left:583px;top:169px;width:41px;height:38px;line-height:38px">602</div>
<div class="c" style="left:626px;top:169px;width:41px;height:38px;line-height:38px">398</div>
<div class="c" style="left:669px;top:169px;width:41px;height:38px;line-height:38px">80</div>
<div class="c" style="left:712px;top:169px;width:41px;height:38px;line-height:38px">566</div>
<div class="c" style="left:755px;top:169px;width:41px;height:38px;line-height:38px">434</div>
<div class="c" style="left:798px;top:169px;width:41px;height:38px;line-height:38px">20</div>
<div class="c" style="left:841px;top:169px;width:41px;height:38px;line-height:38px">18</div>
<div class="c" style="left:884px;top:169px;width:41px;height:38px;line-height:38px">M16</div>
<div class="c" style="left:927px;top:169px;width:41px;height:38px;line-height:38px">32</div>
<div class="c" style="left:970px;top:169px;width:41px;height:38px;line-height:38px">4</div>
<div class="c" style="left:1013px;top:169px;width:41px;height:38px;line-height:38px">501</div>
<div class="c" style="left:1056px;top:169px;width:41px;height:38px;line-height:38px">498</div>
<div class="c" style="left:1099px;top:169px;width:41px;height:38px;line-height:38px">70</div>
<div class="c" style="left:1142px;top:169px;width:41px;height:38px;line-height:38px">10</div>
<div class="c" style="left:1185px;top:169px;width:41px;height:38px;line-height:38px">60</div>
<div class="c" style="left:1228px;top:169px;width:41px;height:38px;line-height:38px">0.5</div>
<div class="c" style="left:1492px;top:169px;width:41px;height:38px;line-height:38px">85</div>
<div class="c" style="left:449px;top:209px;width:39px;height:37px;line-height:37px">5'</div>
<div class="c" style="left:490px;top:210px;width:91px;height:17px;line-height:17px">013.25.500</div>
<div class="c" style="left:1271px;top:210px;width:41px;height:17px;line-height:17px">5</div>
<div class="c" style="left:1314px;top:210px;width:47px;height:17px;line-height:17px">367</div>
<div class="c" style="left:1363px;top:210px;width:41px;height:17px;line-height:17px">74</div>
<div class="c" style="left:1406px;top:210px;width:41px;height:17px;line-height:17px">3.7</div>
<div class="c" style="left:1449px;top:210px;width:41px;height:17px;line-height:17px">5.2</div>
<div class="c" style="left:490px;top:229px;width:91px;height:18px;line-height:18px">014.25.500</div>
<div class="c" style="left:1271px;top:229px;width:41px;height:18px;line-height:18px">6</div>
<div class="c" style="left:1314px;top:229px;width:47px;height:18px;line-height:18px">368.4</div>
<div class="c" style="left:1363px;top:229px;width:41px;height:18px;line-height:18px">62</div>
<div class="c" style="left:1406px;top:229px;width:41px;height:18px;line-height:18px">4.5</div>
<div class="c" style="left:1449px;top:229px;width:41px;height:18px;line-height:18px">6.2</div>
<div class="c" style="left:583px;top:209px;width:41px;height:37px;line-height:37px">602</div>
<div class="c" style="left:626px;top:209px;width:41px;height:37px;line-height:37px">398</div>
<div class="c" style="left:669px;top:209px;width:41px;height:37px;line-height:37px">80</div>
<div class="c" style="left:712px;top:209px;width:41px;height:37px;line-height:37px">566</div>
<div class="c" style="left:755px;top:209px;width:41px;height:37px;line-height:37px">434</div>
<div class="c" style="left:798px;top:209px;width:41px;height:37px;line-height:37px">20</div>
<div class="c" style="left:841px;top:209px;width:41px;height:37px;line-height:37px">18</div>
<div class="c" style="left:884px;top:209px;width:41px;height:37px;line-height:37px">M16</div>
<div class="c" style="left:927px;top:209px;width:41px;height:37px;line-height:37px">32</div>
<div class="c" style="left:970px;top:209px;width:41px;height:37px;line-height:37px">4</div>
<div class="c" style="left:1013px;top:209px;width:41px;height:37px;line-height:37px">501</div>
<div class="c" style="left:1056px;top:209px;width:41px;height:37px;line-height:37px">499</div>
<div class="c" style="left:1099px;top:209px;width:41px;height:37px;line-height:37px">70</div>
<div class="c" style="left:1142px;top:209px;width:41px;height:37px;line-height:37px">10</div>
<div class="c" style="left:1185px;top:209px;width:41px;height:37px;line-height:37px">60</div>
<div class="c" style="left:1228px;top:209px;width:41px;height:37px;line-height:37px">0.5</div>
<div class="c" style="left:1492px;top:209px;width:41px;height:37px;line-height:37px">85</div>
<div class="c" style="left:449px;top:248px;width:39px;height:38px;line-height:38px">6</div>
<div class="c" style="left:490px;top:249px;width:91px;height:18px;line-height:18px">013.30.560</div>
<div class="c" style="left:1271px;top:249px;width:41px;height:18px;line-height:18px">5</div>
<div class="c" style="left:1314px;top:249px;width:47px;height:18px;line-height:18px">427</div>
<div class="c" style="left:1363px;top:249px;width:41px;height:18px;line-height:18px">86</div>
<div class="c" style="left:1406px;top:249px;width:41px;height:18px;line-height:18px">3.7</div>
<div class="c" style="left:1449px;top:249px;width:41px;height:18px;line-height:18px">5.2</div>
<div class="c" style="left:490px;top:269px;width:91px;height:18px;line-height:18px">014.30.560</div>
<div class="c" style="left:1271px;top:269px;width:41px;height:18px;line-height:18px">6</div>
<div class="c" style="left:1314px;top:269px;width:47px;height:18px;line-height:18px">428.4</div>
<div class="c" style="left:1363px;top:269px;width:41px;height:18px;line-height:18px">72</div>
<div class="c" style="left:1406px;top:269px;width:41px;height:18px;line-height:18px">4.5</div>
<div class="c" style="left:1449px;top:269px;width:41px;height:18px;line-height:18px">6.2</div>
<div class="c" style="left:583px;top:248px;width:41px;height:38px;line-height:38px">662</div>
<div class="c" style="left:626px;top:248px;width:41px;height:38px;line-height:38px">458</div>
<div class="c" style="left:669px;top:248px;width:41px;height:38px;line-height:38px">80</div>
<div class="c" style="left:712px;top:248px;width:41px;height:38px;line-height:38px">626</div>
<div class="c" style="left:755px;top:248px;width:41px;height:38px;line-height:38px">494</div>
<div class="c" style="left:798px;top:248px;width:41px;height:38px;line-height:38px">20</div>
<div class="c" style="left:841px;top:248px;width:41px;height:38px;line-height:38px">18</div>
<div class="c" style="left:884px;top:248px;width:41px;height:38px;line-height:38px">M16</div>
<div class="c" style="left:927px;top:248px;width:41px;height:38px;line-height:38px">32</div>
<div class="c" style="left:970px;top:248px;width:41px;height:38px;line-height:38px">4</div>
<div class="c" style="left:1013px;top:248px;width:41px;height:38px;line-height:38px">561</div>
<div class="c" style="left:1056px;top:248px;width:41px;height:38px;line-height:38px">558</div>
<div class="c" style="left:1099px;top:248px;width:41px;height:38px;line-height:38px">70</div>
<div class="c" style="left:1142px;top:248px;width:41px;height:38px;line-height:38px">10</div>
<div class="c" style="left:1185px;top:248px;width:41px;height:38px;line-height:38px">60</div>
<div class="c" style="left:1228px;top:248px;width:41px;height:38px;line-height:38px">0.5</div>
<div class="c" style="left:1492px;top:248px;width:41px;height:38px;line-height:38px">95</div>
<div class="c" style="left:449px;top:288px;width:39px;height:37px;line-height:37px">6'</div>
<div class="c" style="left:490px;top:289px;width:91px;height:17px;line-height:17px">013.25.560</div>
<div class="c" style="left:1271px;top:289px;width:41px;height:17px;line-height:17px">5</div>
<div class="c" style="left:1314px;top:289px;width:47px;height:17px;line-height:17px">427</div>
<div class="c" style="left:1363px;top:289px;width:41px;height:17px;line-height:17px">86</div>
<div class="c" style="left:1406px;top:289px;width:41px;height:17px;line-height:17px">3.7</div>
<div class="c" style="left:1449px;top:289px;width:41px;height:17px;line-height:17px">5.2</div>
<div class="c" style="left:490px;top:308px;width:91px;height:18px;line-height:18px">014.25.560</div>
<div class="c" style="left:1271px;top:308px;width:41px;height:18px;line-height:18px">6</div>
<div class="c" style="left:1314px;top:308px;width:47px;height:18px;line-height:18px">428.4</div>
<div class="c" style="left:1363px;top:308px;width:41px;height:18px;line-height:18px">72</div>
<div class="c" style="left:1406px;top:308px;width:41px;height:18px;line-height:18px">4.5</div>
<div class="c" style="left:1449px;top:308px;width:41px;height:18px;line-height:18px">6.2</div>
<div class="c" style="left:583px;top:288px;width:41px;height:37px;line-height:37px">662</div>
<div class="c" style="left:626px;top:288px;width:41px;height:37px;line-height:37px">458</div>
<div class="c" style="left:669px;top:288px;width:41px;height:37px;line-height:37px">80</div>
<div class="c" style="left:712px;top:288px;width:41px;height:37px;line-height:37px">626</div>
<div class="c" style="left:755px;top:288px;width:41px;height:37px;line-height:37px">494</div>
<div class="c" style="left:798px;top:288px;width:41px;height:37px;line-height:37px">20</div>
<div class="c" style="left:841px;top:288px;width:41px;height:37px;line-height:37px">18</div>
<div class="c" style="left:884px;top:288px;width:41px;height:37px;line-height:37px">M16</div>
<div class="c" style="left:927px;top:288px;width:41px;height:37px;line-height:37px">32</div>
<div class="c" style="left:970px;top:288px;width:41px;height:37px;line-height:37px">4</div>
<div class="c" style="left:1013px;top:288px;width:41px;height:37px;line-height:37px">561</div>
<div class="c" style="left:1056px;top:288px;width:41px;height:37px;line-height:37px">559</div>
<div class="c" style="left:1099px;top:288px;width:41px;height:37px;line-height:37px">70</div>
<div class="c" style="left:1142px;top:288px;width:41px;height:37px;line-height:37px">10</div>
<div class="c" style="left:1185px;top:288px;width:41px;height:37px;line-height:37px">60</div>
<div class="c" style="left:1228px;top:288px;width:41px;height:37px;line-height:37px">0.5</div>
<div class="c" style="left:1492px;top:288px;width:41px;height:37px;line-height:37px">95</div>
<div class="c" style="left:449px;top:327px;width:39px;height:38px;line-height:38px">7</div>
<div class="c" style="left:490px;top:328px;width:91px;height:18px;line-height:18px">013.30.630</div>
<div class="c" style="left:1271px;top:328px;width:41px;height:18px;line-height:18px">6</div>
<div class="c" style="left:1314px;top:328px;width:47px;height:18px;line-height:18px">494.4</div>
<div class="c" style="left:1363px;top:328px;width:41px;height:18px;line-height:18px">83</div>
<div class="c" style="left:1406px;top:328px;width:41px;height:18px;line-height:18px">4.5</div>
<div class="c" style="left:1449px;top:328px;width:41px;height:18px;line-height:18px">6.2</div>
<div class="c" style="left:490px;top:348px;width:91px;height:18px;line-height:18px">014.30.630</div>
<div class="c" style="left:1271px;top:348px;width:41px;height:18px;line-height:18px">8</div>
<div class="c" style="left:1314px;top:348px;width:47px;height:18px;line-height:18px">491.2</div>
<div class="c" style="left:1363px;top:348px;width:41px;height:18px;line-height:18px">62</div>
<div class="c" style="left:1406px;top:348px;width:41px;height:18px;line-height:18px">6</div>
<div class="c" style="left:1449px;top:348px;width:41px;height:18px;line-height:18px">8.3</div>
<div class="c" style="left:583px;top:327px;width:41px;height:38px;line-height:38px">732</div>
<div class="c" style="left:626px;top:327px;width:41px;height:38px;line-height:38px">528</div>
<div class="c" style="left:669px;top:327px;width:41px;height:38px;line-height:38px">80</div>
<div class="c" style="left:712px;top:327px;width:41px;height:38px;line-height:38px">696</div>
<div class="c" style="left:755px;top:327px;width:41px;height:38px;line-height:38px">564</div>
<div class="c" style="left:798px;top:327px;width:41px;height:38px;line-height:38px">24</div>
<div class="c" style="left:841px;top:327px;width:41px;height:38px;line-height:38px">18</div>
<div class="c" style="left:884px;top:327px;width:41px;height:38px;line-height:38px">M16</div>
<div class="c" style="left:927px;top:327px;width:41px;height:38px;line-height:38px">32</div>
<div class="c" style="left:970px;top:327px;width:41px;height:38px;line-height:38px">4</div>
<div class="c" style="left:1013px;top:327px;width:41px;height:38px;line-height:38px">631</div>
<div class="c" style="left:1056px;top:327px;width:41px;height:38px;line-height:38px">628</div>
<div class="c" style="left:1099px;top:327px;width:41px;height:38px;line-height:38px">70</div>
<div class="c" style="left:1142px;top:327px;width:41px;height:38px;line-height:38px">10</div>
<div class="c" style="left:1185px;top:327px;width:41px;height:38px;line-height:38px">60</div>
<div class="c" style="left:1228px;top:327px;width:41px;height:38px;line-height:38px">0.5</div>
<div class="c" style="left:1492px;top:327px;width:41px;height:38px;line-height:38px">110</div>
<div class="c" style="left:449px;top:367px;width:39px;height:37px;line-height:37px">7'</div>
<div class="c" style="left:490px;top:368px;width:91px;height:17px;line-height:17px">013.25.630</div>
<div class="c" style="left:1271px;top:368px;width:41px;height:17px;line-height:17px">6</div>
<div class="c" style="left:1314px;top:368px;width:47px;height:17px;line-height:17px">494.4</div>
<div class="c" style="left:1363px;top:368px;width:41px;height:17px;line-height:17px">83</div>
<div class="c" style="left:1406px;top:368px;width:41px;height:17px;line-height:17px">4.5</div>
<div class="c" style="left:1449px;top:368px;width:41px;height:17px;line-height:17px">6.2</div>
<div class="c" style="left:490px;top:387px;width:91px;height:18px;line-height:18px">014.25.630</div>
<div class="c" style="left:1271px;top:387px;width:41px;height:18px;line-height:18px">8</div>
<div class="c" style="left:1314px;top:387px;width:47px;height:18px;line-height:18px">491.2</div>
<div class="c" style="left:1363px;top:387px;width:41px;height:18px;line-height:18px">62</div>
<div class="c" style="left:1406px;top:387px;width:41px;height:18px;line-height:18px">6</div>
<div class="c" style="left:1449px;top:387px;width:41px;height:18px;line-height:18px">8.2</div>
<div class="c" style="left:583px;top:367px;width:41px;height:37px;line-height:37px">732</div>
<div class="c" style="left:626px;top:367px;width:41px;height:37px;line-height:37px">528</div>
<div class="c" style="left:669px;top:367px;width:41px;height:37px;line-height:37px">80</div>
<div class="c" style="left:712px;top:367px;width:41px;height:37px;line-height:37px">696</div>
<div class="c" style="left:755px;top:367px;width:41px;height:37px;line-height:37px">564</div>
<div class="c" style="left:798px;top:367px;width:41px;height:37px;line-height:37px">24</div>
<div class="c" style="left:841px;top:367px;width:41px;height:37px;line-height:37px">18</div>
<div class="c" style="left:884px;top:367px;width:41px;height:37px;line-height:37px">M16</div>
<div class="c" style="left:927px;top:367px;width:41px;height:37px;line-height:37px">32</div>
<div class="c" style="left:970px;top:367px;width:41px;height:37px;line-height:37px">4</div>
<div class="c" style="left:1013px;top:367px;width:41px;height:37px;line-height:37px">631</div>
<div class="c" style="left:1056px;top:367px;width:41px;height:37px;line-height:37px">629</div>
<div class="c" style="left:1099px;top:367px;width:41px;height:37px;line-height:37px">70</div>
<div class="c" style="left:1142px;top:367px;width:41px;height:37px;line-height:37px">10</div>
<div class="c" style="left:1185px;top:367px;width:41px;height:37px;line-height:37px">60</div>
<div class="c" style="left:1228px;top:367px;width:41px;height:37px;line-height:37px">0.5</div>
<div class="c" style="left:1492px;top:367px;width:41px;height:37px;line-height:37px">110</div>
<div class="c" style="left:449px;top:406px;width:39px;height:38px;line-height:38px">8</div>
<div class="c" style="left:490px;top:407px;width:91px;height:18px;line-height:18px">013.30.710</div>
<div class="c" style="left:1271px;top:407px;width:41px;height:18px;line-height:18px">6</div>
<div class="c" style="left:1314px;top:407px;width:47px;height:18px;line-height:18px">572.4</div>
<div class="c" style="left:1363px;top:407px;width:41px;height:18px;line-height:18px">96</div>
<div class="c" style="left:1406px;top:407px;width:41px;height:18px;line-height:18px">4.5</div>
<div class="c" style="left:1449px;top:407px;width:41px;height:18px;line-height:18px">6.2</div>
<div class="c" style="left:490px;top:427px;width:91px;height:18px;line-height:18px">014.30.710</div>
<div class="c" style="left:1271px;top:427px;width:41px;height:18px;line-height:18px">8</div>
<div class="c" style="left:1314px;top:427px;width:47px;height:18px;line-height:18px">571.2</div>
<div class="c" style="left:1363px;top:427px;width:41px;height:18px;line-height:18px">72</div>
<div class="c" style="left:1406px;top:427px;width:41px;height:18px;line-height:18px">6</div>
<div class="c" style="left:1449px;top:427px;width:41px;height:18px;line-height:18px">8.3</div>
<div class="c" style="left:583px;top:406px;width:41px;height:38px;line-height:38px">812</div>
<div class="c" style="left:626px;top:406px;width:41px;height:38px;line-height:38px">608</div>
<div class="c" style="left:669px;top:406px;width:41px;height:38px;line-height:38px">80</div>
<div class="c" style="left:712px;top:406px;width:41px;height:38px;line-height:38px">776</div>
<div class="c" style="left:755px;top:406px;width:41px;height:38px;line-height:38px">644</div>
<div class="c" style="left:798px;top:406px;width:41px;height:38px;line-height:38px">24</div>
<div class="c" style="left:841px;top:406px;width:41px;height:38px;line-height:38px">18</div>
<div class="c" style="left:884px;top:406px;width:41px;height:38px;line-height:38px">M16</div>
<div class="c" style="left:927px;top:406px;width:41px;height:38px;line-height:38px">32</div>
<div class="c" style="left:970px;top:406px;width:41px;height:38px;line-height:38px">4</div>
<div class="c" style="left:1013px;top:406px;width:41px;height:38px;line-height:38px">711</div>
<div class="c" style="left:1056px;top:406px;width:41px;height:38px;line-height:38px">708</div>
<div class="c" style="left:1099px;top:406px;width:41px;height:38px;line-height:38px">70</div>
<div class="c" style="left:1142px;top:406px;width:41px;height:38px;line-height:38px">10</div>
<div class="c" style="left:1185px;top:406px;width:41px;height:38px;line-height:38px">60</div>
<div class="c" style="left:1228px;top:406px;width:41px;height:38px;line-height:38px">0.5</div>
<div class="c" style="left:1492px;top:406px;width:41px;height:38px;line-height:38px">120</div>
<div class="c" style="left:449px;top:446px;width:39px;height:37px;line-height:37px">8’</div>
<div class="c" style="left:490px;top:447px;width:91px;height:17px;line-height:17px">013.25.710</div>
<div class="c" style="left:1271px;top:447px;width:41px;height:17px;line-height:17px">6</div>
<div class="c" style="left:1314px;top:447px;width:47px;height:17px;line-height:17px">572.4</div>
<div class="c" style="left:1363px;top:447px;width:41px;height:17px;line-height:17px">96</div>
<div class="c" style="left:1406px;top:447px;width:41px;height:17px;line-height:17px">4.5</div>
<div class="c" style="left:1449px;top:447px;width:41px;height:17px;line-height:17px">6.2</div>
<div class="c" style="left:490px;top:466px;width:91px;height:18px;line-height:18px">014.25.710</div>
<div class="c" style="left:1271px;top:466px;width:41px;height:18px;line-height:18px">8</div>
<div class="c" style="left:1314px;top:466px;width:47px;height:18px;line-height:18px">571.2</div>
<div class="c" style="left:1363px;top:466px;width:41px;height:18px;line-height:18px">72</div>
<div class="c" style="left:1406px;top:466px;width:41px;height:18px;line-height:18px">6</div>
<div class="c" style="left:1449px;top:466px;width:41px;height:18px;line-height:18px">8.9</div>
<div class="c" style="left:583px;top:446px;width:41px;height:37px;line-height:37px">812</div>
<div class="c" style="left:626px;top:446px;width:41px;height:37px;line-height:37px">608</div>
<div class="c" style="left:669px;top:446px;width:41px;height:37px;line-height:37px">80</div>
<div class="c" style="left:712px;top:446px;width:41px;height:37px;line-height:37px">776</div>
<div class="c" style="left:755px;top:446px;width:41px;height:37px;line-height:37px">644</div>
<div class="c" style="left:798px;top:446px;width:41px;height:37px;line-height:37px">24</div>
<div class="c" style="left:841px;top:446px;width:41px;height:37px;line-height:37px">18</div>
<div class="c" style="left:884px;top:446px;width:41px;height:37px;line-height:37px">M16</div>
<div class="c" style="left:927px;top:446px;width:41px;height:37px;line-height:37px">32</div>
<div class="c" style="left:970px;top:446px;width:41px;height:37px;line-height:37px">4</div>
<div class="c" style="left:1013px;top:446px;width:41px;height:37px;line-height:37px">711</div>
<div class="c" style="left:1056px;top:446px;width:41px;height:37px;line-height:37px">709</div>
<div class="c" style="left:1099px;top:446px;width:41px;height:37px;line-height:37px">70</div>
<div class="c" style="left:1142px;top:446px;width:41px;height:37px;line-height:37px">10</div>
<div class="c" style="left:1185px;top:446px;width:41px;height:37px;line-height:37px">60</div>
<div class="c" style="left:1228px;top:446px;width:41px;height:37px;line-height:37px">0.5</div>
<div class="c" style="left:1492px;top:446px;width:41px;height:37px;line-height:37px">120</div>
<div class="c" style="left:449px;top:485px;width:39px;height:38px;line-height:38px">9</div>
<div class="c" style="left:490px;top:486px;width:91px;height:18px;line-height:18px">013.40.800</div>
<div class="c" style="left:1271px;top:486px;width:41px;height:18px;line-height:18px">8</div>
<div class="c" style="left:1314px;top:486px;width:47px;height:18px;line-height:18px">635.2</div>
<div class="c" style="left:1363px;top:486px;width:41px;height:18px;line-height:18px">80</div>
<div class="c" style="left:1406px;top:486px;width:41px;height:18px;line-height:18px">8</div>
<div class="c" style="left:1449px;top:486px;width:41px;height:18px;line-height:18px">11.1</div>
<div class="c" style="left:490px;top:506px;width:91px;height:18px;line-height:18px">014.40.800</div>
<div class="c" style="left:1271px;top:506px;width:41px;height:18px;line-height:18px">10</div>
<div class="c" style="left:1314px;top:506px;width:47px;height:18px;line-height:18px">634</div>
<div class="c" style="left:1363px;top:506px;width:41px;height:18px;line-height:18px">64</div>
<div class="c" style="left:1406px;top:506px;width:41px;height:18px;line-height:18px">10</div>
<div class="c" style="left:1449px;top:506px;width:41px;height:18px;line-height:18px">14</div>
<div class="c" style="left:583px;top:485px;width:41px;height:38px;line-height:38px">922</div>
<div class="c" style="left:626px;top:485px;width:41px;height:38px;line-height:38px">678</div>
<div class="c" style="left:669px;top:485px;width:41px;height:38px;line-height:38px">100</div>
<div class="c" style="left:712px;top:485px;width:41px;height:38px;line-height:38px">878</div>
<div class="c" style="left:755px;top:485px;width:41px;height:38px;line-height:38px">722</div>
<div class="c" style="left:798px;top:485px;width:41px;height:38px;line-height:38px">30</div>
<div class="c" style="left:841px;top:485px;width:41px;height:38px;line-height:38px">22</div>
<div class="c" style="left:884px;top:485px;width:41px;height:38px;line-height:38px">M20</div>
<div class="c" style="left:927px;top:485px;width:41px;height:38px;line-height:38px">40</div>
<div class="c" style="left:970px;top:485px;width:41px;height:38px;line-height:38px">6</div>
<div class="c" style="left:1013px;top:485px;width:41px;height:38px;line-height:38px">801</div>
<div class="c" style="left:1056px;top:485px;width:41px;height:38px;line-height:38px">798</div>
<div class="c" style="left:1099px;top:485px;width:41px;height:38px;line-height:38px">90</div>
<div class="c" style="left:1142px;top:485px;width:41px;height:38px;line-height:38px">10</div>
<div class="c" style="left:1185px;top:485px;width:41px;height:38px;line-height:38px">80</div>
<div class="c" style="left:1228px;top:485px;width:41px;height:38px;line-height:38px">0.5</div>
<div class="c" style="left:1492px;top:485px;width:41px;height:38px;line-height:38px">220</div>
<div class="c" style="left:449px;top:525px;width:39px;height:37px;line-height:37px">9'</div>
<div class="c" style="left:490px;top:526px;width:91px;height:17px;line-height:17px">013.30.800</div>
<div class="c" style="left:1271px;top:526px;width:41px;height:17px;line-height:17px">8</div>
<div class="c" style="left:1314px;top:526px;width:47px;height:17px;line-height:17px">635.2</div>
<div class="c" style="left:1363px;top:526px;width:41px;height:17px;line-height:17px">80</div>
<div class="c" style="left:1406px;top:526px;width:41px;height:17px;line-height:17px">8</div>
<div class="c" style="left:1449px;top:526px;width:41px;height:17px;line-height:17px">11.1</div>
<div class="c" style="left:490px;top:545px;width:91px;height:18px;line-height:18px">014.30.800</div>
<div class="c" style="left:1271px;top:545px;width:41px;height:18px;line-height:18px">10</div>
<div class="c" style="left:1314px;top:545px;width:47px;height:18px;line-height:18px">634</div>
<div class="c" style="left:1363px;top:545px;width:41px;height:18px;line-height:18px">64</div>
<div class="c" style="left:1406px;top:545px;width:41px;height:18px;line-height:18px">10</div>
<div class="c" style="left:1449px;top:545px;width:41px;height:18px;line-height:18px">14.1</div>
<div class="c" style="left:583px;top:525px;width:41px;height:37px;line-height:37px">922</div>
<div class="c" style="left:626px;top:525px;width:41px;height:37px;line-height:37px">678</div>
<div class="c" style="left:669px;top:525px;width:41px;height:37px;line-height:37px">100</div>
<div class="c" style="left:712px;top:525px;width:41px;height:37px;line-height:37px">878</div>
<div class="c" style="left:755px;top:525px;width:41px;height:37px;line-height:37px">722</div>
<div class="c" style="left:798px;top:525px;width:41px;height:37px;line-height:37px">30</div>
<div class="c" style="left:841px;top:525px;width:41px;height:37px;line-height:37px">22</div>
<div class="c" style="left:884px;top:525px;width:41px;height:37px;line-height:37px">M20</div>
<div class="c" style="left:927px;top:525px;width:41px;height:37px;line-height:37px">40</div>
<div class="c" style="left:970px;top:525px;width:41px;height:37px;line-height:37px">6</div>
<div class="c" style="left:1013px;top:525px;width:41px;height:37px;line-height:37px">801</div>
<div class="c" style="left:1056px;top:525px;width:41px;height:37px;line-height:37px">798</div>
<div class="c" style="left:1099px;top:525px;width:41px;height:37px;line-height:37px">90</div>
<div class="c" style="left:1142px;top:525px;width:41px;height:37px;line-height:37px">10</div>
<div class="c" style="left:1185px;top:525px;width:41px;height:37px;line-height:37px">80</div>
<div class="c" style="left:1228px;top:525px;width:41px;height:37px;line-height:37px">0.5</div>
<div class="c" style="left:1492px;top:525px;width:41px;height:37px;line-height:37px">220</div>
<div class="c" style="left:449px;top:564px;width:39px;height:38px;line-height:38px">10</div>
<div class="c" style="left:490px;top:565px;width:91px;height:18px;line-height:18px">013.40.900</div>
<div class="c" style="left:1271px;top:565px;width:41px;height:18px;line-height:18px">8</div>
<div class="c" style="left:1314px;top:565px;width:47px;height:18px;line-height:18px">739.2</div>
<div class="c" style="left:1363px;top:565px;width:41px;height:18px;line-height:18px">93</div>
<div class="c" style="left:1406px;top:565px;width:41px;height:18px;line-height:18px">8</div>
<div class="c" style="left:1449px;top:565px;width:41px;height:18px;line-height:18px">11.1</div>
<div class="c" style="left:490px;top:585px;width:91px;height:18px;line-height:18px">014.40.900</div>
<div class="c" style="left:1271px;top:585px;width:41px;height:18px;line-height:18px">10</div>
<div class="c" style="left:1314px;top:585px;width:47px;height:18px;line-height:18px">734</div>
<div class="c" style="left:1363px;top:585px;width:41px;height:18px;line-height:18px">74</div>
<div class="c" style="left:1406px;top:585px;width:41px;height:18px;line-height:18px">10</div>
<div class="c" style="left:1449px;top:585px;width:41px;height:18px;line-height:18px">14</div>
<div class="c" style="left:583px;top:564px;width:41px;height:38px;line-height:38px">1022</div>
<div class="c" style="left:626px;top:564px;width:41px;height:38px;line-height:38px">778</div>
<div class="c" style="left:669px;top:564px;width:41px;height:38px;line-height:38px">100</div>
<div class="c" style="left:712px;top:564px;width:41px;height:38px;line-height:38px">978</div>
<div class="c" style="left:755px;top:564px;width:41px;height:38px;line-height:38px">822</div>
<div class="c" style="left:798px;top:564px;width:41px;height:38px;line-height:38px">30</div>
<div class="c" style="left:841px;top:564px;width:41px;height:38px;line-height:38px">22</div>
<div class="c" style="left:884px;top:564px;width:41px;height:38px;line-height:38px">M20</div>
<div class="c" style="left:927px;top:564px;width:41px;height:38px;line-height:38px">40</div>
<div class="c" style="left:970px;top:564px;width:41px;height:38px;line-height:38px">6</div>
<div class="c" style="left:1013px;top:564px;width:41px;height:38px;line-height:38px">901</div>
<div class="c" style="left:1056px;top:564px;width:41px;height:38px;line-height:38px">898</div>
<div class="c" style="left:1099px;top:564px;width:41px;height:38px;line-height:38px">90</div>
<div class="c" style="left:1142px;top:564px;width:41px;height:38px;line-height:38px">10</div>
<div class="c" style="left:1185px;top:564px;width:41px;height:38px;line-height:38px">80</div>
<div class="c" style="left:1228px;top:564px;width:41px;height:38px;line-height:38px">0.5</div>
<div class="c" style="left:1492px;top:564px;width:41px;height:38px;line-height:38px">240</div>
<div class="c" style="left:449px;top:604px;width:39px;height:37px;line-height:37px">10’</div>
<div class="c" style="left:490px;top:605px;width:91px;height:17px;line-height:17px">013.30.900</div>
<div class="c" style="left:1271px;top:605px;width:41px;height:17px;line-height:17px">8</div>
<div class="c" style="left:1314px;top:605px;width:47px;height:17px;line-height:17px">739.2</div>
<div class="c" style="left:1363px;top:605px;width:41px;height:17px;line-height:17px">93</div>
<div class="c" style="left:1406px;top:605px;width:41px;height:17px;line-height:17px">8</div>
<div class="c" style="left:1449px;top:605px;width:41px;height:17px;line-height:17px">11.1</div>
<div class="c" style="left:490px;top:624px;width:91px;height:18px;line-height:18px">014.30.900</div>
<div class="c" style="left:1271px;top:624px;width:41px;height:18px;line-height:18px">10</div>
<div class="c" style="left:1314px;top:624px;width:47px;height:18px;line-height:18px">734</div>
<div class="c" style="left:1363px;top:624px;width:41px;height:18px;line-height:18px">74</div>
<div class="c" style="left:1406px;top:624px;width:41px;height:18px;line-height:18px">10</div>
<div class="c" style="left:1449px;top:624px;width:41px;height:18px;line-height:18px">14</div>
<div class="c" style="left:583px;top:604px;width:41px;height:37px;line-height:37px">1022</div>
<div class="c" style="left:626px;top:604px;width:41px;height:37px;line-height:37px">778</div>
<div class="c" style="left:669px;top:604px;width:41px;height:37px;line-height:37px">100</div>
<div class="c" style="left:712px;top:604px;width:41px;height:37px;line-height:37px">978</div>
<div class="c" style="left:755px;top:604px;width:41px;height:37px;line-height:37px">822</div>
<div class="c" style="left:798px;top:604px;width:41px;height:37px;line-height:37px">30</div>
<div class="c" style="left:841px;top:604px;width:41px;height:37px;line-height:37px">22</div>
<div class="c" style="left:884px;top:604px;width:41px;height:37px;line-height:37px">M20</div>
<div class="c" style="left:927px;top:604px;width:41px;height:37px;line-height:37px">40</div>
<div class="c" style="left:970px;top:604px;width:41px;height:37px;line-height:37px">6</div>
<div class="c" style="left:1013px;top:604px;width:41px;height:37px;line-height:37px">901</div>
<div class="c" style="left:1056px;top:604px;width:41px;height:37px;line-height:37px">898</div>
<div class="c" style="left:1099px;top:604px;width:41px;height:37px;line-height:37px">90</div>
<div class="c" style="left:1142px;top:604px;width:41px;height:37px;line-height:37px">10</div>
<div class="c" style="left:1185px;top:604px;width:41px;height:37px;line-height:37px">80</div>
<div class="c" style="left:1228px;top:604px;width:41px;height:37px;line-height:37px">0.5</div>
<div class="c" style="left:1492px;top:604px;width:41px;height:37px;line-height:37px">240</div>
<div class="c" style="left:449px;top:643px;width:39px;height:38px;line-height:38px">11</div>
<div class="c" style="left:490px;top:644px;width:91px;height:18px;line-height:18px">013.40.1000</div>
<div class="c" style="left:1271px;top:644px;width:41px;height:18px;line-height:18px">10</div>
<div class="c" style="left:1314px;top:644px;width:47px;height:18px;line-height:18px">824</div>
<div class="c" style="left:1363px;top:644px;width:41px;height:18px;line-height:18px">83</div>
<div class="c" style="left:1406px;top:644px;width:41px;height:18px;line-height:18px">10</div>
<div class="c" style="left:1449px;top:644px;width:41px;height:18px;line-height:18px">14</div>
<div class="c" style="left:490px;top:664px;width:91px;height:18px;line-height:18px">014.40.1000</div>
<div class="c" style="left:1271px;top:664px;width:41px;height:18px;line-height:18px">12</div>
<div class="c" style="left:1314px;top:664px;width:47px;height:18px;line-height:18px">820.8</div>
<div class="c" style="left:1363px;top:664px;width:41px;height:18px;line-height:18px">69</div>
<div class="c" style="left:1406px;top:664px;width:41px;height:18px;line-height:18px">12</div>
<div class="c" style="left:1449px;top:664px;width:41px;height:18px;line-height:18px">16.7</div>
<div class="c" style="left:583px;top:643px;width:41px;height:38px;line-height:38px">1122</div>
<div class="c" style="left:626px;top:643px;width:41px;height:38px;line-height:38px">878</div>
<div class="c" style="left:669px;top:643px;width:41px;height:38px;line-height:38px">100</div>
<div class="c" style="left:712px;top:643px;width:41px;height:38px;line-height:38px">1078</div>
<div class="c" style="left:755px;top:643px;width:41px;height:38px;line-height:38px">922</div>
<div class="c" style="left:798px;top:643px;width:41px;height:38px;line-height:38px">36</div>
<div class="c" style="left:841px;top:643px;width:41px;height:38px;line-height:38px">22</div>
<div class="c" style="left:884px;top:643px;width:41px;height:38px;line-height:38px">M20</div>
<div class="c" style="left:927px;top:643px;width:41px;height:38px;line-height:38px">40</div>
<div class="c" style="left:970px;top:643px;width:41px;height:38px;line-height:38px">6</div>
<div class="c" style="left:1013px;top:643px;width:41px;height:38px;line-height:38px">1001</div>
<div class="c" style="left:1056px;top:643px;width:41px;height:38px;line-height:38px">998</div>
<div class="c" style="left:1099px;top:643px;width:41px;height:38px;line-height:38px">90</div>
<div class="c" style="left:1142px;top:643px;width:41px;height:38px;line-height:38px">10</div>
<div class="c" style="left:1185px;top:643px;width:41px;height:38px;line-height:38px">80</div>
<div class="c" style="left:1228px;top:643px;width:41px;height:38px;line-height:38px">0.5</div>
<div class="c" style="left:1492px;top:643px;width:41px;height:38px;line-height:38px">270</div>
<div class="c" style="left:449px;top:683px;width:39px;height:37px;line-height:37px">11'</div>
<div class="c" style="left:490px;top:684px;width:91px;height:17px;line-height:17px">013.30.1000</div>
<div class="c" style="left:1271px;top:684px;width:41px;height:17px;line-height:17px">10</div>
<div class="c" style="left:1314px;top:684px;width:47px;height:17px;line-height:17px">824</div>
<div class="c" style="left:1363px;top:684px;width:41px;height:17px;line-height:17px">83</div>
<div class="c" style="left:1406px;top:684px;width:41px;height:17px;line-height:17px">10</div>
<div class="c" style="left:1449px;top:684px;width:41px;height:17px;line-height:17px">14</div>
<div class="c" style="left:490px;top:703px;width:91px;height:18px;line-height:18px">014.30.1000</div>
<div class="c" style="left:1271px;top:703px;width:41px;height:18px;line-height:18px">12</div>
<div class="c" style="left:1314px;top:703px;width:47px;height:18px;line-height:18px">820.8</div>
<div class="c" style="left:1363px;top:703px;width:41px;height:18px;line-height:18px">69</div>
<div class="c" style="left:1406px;top:703px;width:41px;height:18px;line-height:18px">12</div>
<div class="c" style="left:1449px;top:703px;width:41px;height:18px;line-height:18px">16.7</div>
<div class="c" style="left:583px;top:683px;width:41px;height:37px;line-height:37px">1122</div>
<div class="c" style="left:626px;top:683px;width:41px;height:37px;line-height:37px">878</div>
<div class="c" style="left:669px;top:683px;width:41px;height:37px;line-height:37px">100</div>
<div class="c" style="left:712px;top:683px;width:41px;height:37px;line-height:37px">1078</div>
<div class="c" style="left:755px;top:683px;width:41px;height:37px;line-height:37px">922</div>
<div class="c" style="left:798px;top:683px;width:41px;height:37px;line-height:37px">36</div>
<div class="c" style="left:841px;top:683px;width:41px;height:37px;line-height:37px">22</div>
<div class="c" style="left:884px;top:683px;width:41px;height:37px;line-height:37px">M20</div>
<div class="c" style="left:927px;top:683px;width:41px;height:37px;line-height:37px">40</div>
<div class="c" style="left:970px;top:683px;width:41px;height:37px;line-height:37px">6</div>
<div class="c" style="left:1013px;top:683px;width:41px;height:37px;line-height:37px">1001</div>
<div class="c" style="left:1056px;top:683px;width:41px;height:37px;line-height:37px">998</div>
<div class="c" style="left:1099px;top:683px;width:41px;height:37px;line-height:37px">90</div>
<div class="c" style="left:1142px;top:683px;width:41px;height:37px;line-height:37px">10</div>
<div class="c" style="left:1185px;top:683px;width:41px;height:37px;line-height:37px">80</div>
<div class="c" style="left:1228px;top:683px;width:41px;height:37px;line-height:37px">0.5</div>
<div class="c" style="left:1492px;top:683px;width:41px;height:37px;line-height:37px">270</div>
<div class="c" style="left:449px;top:722px;width:39px;height:38px;line-height:38px">12</div>
<div class="c" style="left:490px;top:723px;width:91px;height:18px;line-height:18px">013.40.1120</div>
<div class="c" style="left:1271px;top:723px;width:41px;height:18px;line-height:18px">10</div>
<div class="c" style="left:1314px;top:723px;width:47px;height:18px;line-height:18px">944</div>
<div class="c" style="left:1363px;top:723px;width:41px;height:18px;line-height:18px">95</div>
<div class="c" style="left:1406px;top:723px;width:41px;height:18px;line-height:18px">10</div>
<div class="c" style="left:1449px;top:723px;width:41px;height:18px;line-height:18px">14</div>
<div class="c" style="left:490px;top:743px;width:91px;height:18px;line-height:18px">014.40.1120</div>
<div class="c" style="left:1271px;top:743px;width:41px;height:18px;line-height:18px">12</div>
<div class="c" style="left:1314px;top:743px;width:47px;height:18px;line-height:18px">940.8</div>
<div class="c" style="left:1363px;top:743px;width:41px;height:18px;line-height:18px">79</div>
<div class="c" style="left:1406px;top:743px;width:41px;height:18px;line-height:18px">12</div>
<div class="c" style="left:1449px;top:743px;width:41px;height:18px;line-height:18px">16.7</div>
<div class="c" style="left:583px;top:722px;width:41px;height:38px;line-height:38px">1242</div>
<div class="c" style="left:626px;top:722px;width:41px;height:38px;line-height:38px">998</div>
<div class="c" style="left:669px;top:722px;width:41px;height:38px;line-height:38px">100</div>
<div class="c" style="left:712px;top:722px;width:41px;height:38px;line-height:38px">1198</div>
<div class="c" style="left:755px;top:722px;width:41px;height:38px;line-height:38px">1042</div>
<div class="c" style="left:798px;top:722px;width:41px;height:38px;line-height:38px">36</div>
<div class="c" style="left:841px;top:722px;width:41px;height:38px;line-height:38px">22</div>
<div class="c" style="left:884px;top:722px;width:41px;height:38px;line-height:38px">M20</div>
<div class="c" style="left:927px;top:722px;width:41px;height:38px;line-height:38px">40</div>
<div class="c" style="left:970px;top:722px;width:41px;height:38px;line-height:38px">6</div>
<div class="c" style="left:1013px;top:722px;width:41px;height:38px;line-height:38px">1121</div>
<div class="c" style="left:1056px;top:722px;width:41px;height:38px;line-height:38px">1118</div>
<div class="c" style="left:1099px;top:722px;width:41px;height:38px;line-height:38px">90</div>
<div class="c" style="left:1142px;top:722px;width:41px;height:38px;line-height:38px">10</div>
<div class="c" style="left:1185px;top:722px;width:41px;height:38px;line-height:38px">80</div>
<div class="c" style="left:1228px;top:722px;width:41px;height:38px;line-height:38px">0.5</div>
<div class="c" style="left:1492px;top:722px;width:41px;height:38px;line-height:38px">300</div>
<div class="c" style="left:449px;top:762px;width:39px;height:37px;line-height:37px">12’</div>
<div class="c" style="left:490px;top:763px;width:91px;height:17px;line-height:17px">013.30.1120</div>
<div class="c" style="left:1271px;top:763px;width:41px;height:17px;line-height:17px">10</div>
<div class="c" style="left:1314px;top:763px;width:47px;height:17px;line-height:17px">944</div>
<div class="c" style="left:1363px;top:763px;width:41px;height:17px;line-height:17px">95</div>
<div class="c" style="left:1406px;top:763px;width:41px;height:17px;line-height:17px">10</div>
<div class="c" style="left:1449px;top:763px;width:41px;height:17px;line-height:17px">14</div>
<div class="c" style="left:490px;top:782px;width:91px;height:18px;line-height:18px">014.30.1120</div>
<div class="c" style="left:1271px;top:782px;width:41px;height:18px;line-height:18px">12</div>
<div class="c" style="left:1314px;top:782px;width:47px;height:18px;line-height:18px">940.8</div>
<div class="c" style="left:1363px;top:782px;width:41px;height:18px;line-height:18px">79</div>
<div class="c" style="left:1406px;top:782px;width:41px;height:18px;line-height:18px">12</div>
<div class="c" style="left:1449px;top:782px;width:41px;height:18px;line-height:18px">16.7</div>
<div class="c" style="left:583px;top:762px;width:41px;height:37px;line-height:37px">1242</div>
<div class="c" style="left:626px;top:762px;width:41px;height:37px;line-height:37px">998</div>
<div class="c" style="left:669px;top:762px;width:41px;height:37px;line-height:37px">100</div>
<div class="c" style="left:712px;top:762px;width:41px;height:37px;line-height:37px">1198</div>
<div class="c" style="left:755px;top:762px;width:41px;height:37px;line-height:37px">1042</div>
<div class="c" style="left:798px;top:762px;width:41px;height:37px;line-height:37px">36</div>
<div class="c" style="left:841px;top:762px;width:41px;height:37px;line-height:37px">22</div>
<div class="c" style="left:884px;top:762px;width:41px;height:37px;line-height:37px">M20</div>
<div class="c" style="left:927px;top:762px;width:41px;height:37px;line-height:37px">40</div>
<div class="c" style="left:970px;top:762px;width:41px;height:37px;line-height:37px">6</div>
<div class="c" style="left:1013px;top:762px;width:41px;height:37px;line-height:37px">1121</div>
<div class="c" style="left:1056px;top:762px;width:41px;height:37px;line-height:37px">1118</div>
<div class="c" style="left:1099px;top:762px;width:41px;height:37px;line-height:37px">90</div>
<div class="c" style="left:1142px;top:762px;width:41px;height:37px;line-height:37px">10</div>
<div class="c" style="left:1185px;top:762px;width:41px;height:37px;line-height:37px">80</div>
<div class="c" style="left:1228px;top:762px;width:41px;height:37px;line-height:37px">0.5</div>
<div class="c" style="left:1492px;top:762px;width:41px;height:37px;line-height:37px">300</div>
<div class="c" style="left:449px;top:801px;width:39px;height:38px;line-height:38px">13</div>
<div class="c" style="left:490px;top:802px;width:91px;height:18px;line-height:18px">013.45.1250</div>
<div class="c" style="left:1271px;top:802px;width:41px;height:18px;line-height:18px">12</div>
<div class="c" style="left:1314px;top:802px;width:47px;height:18px;line-height:18px">1049</div>
<div class="c" style="left:1363px;top:802px;width:41px;height:18px;line-height:18px">88</div>
<div class="c" style="left:1406px;top:802px;width:41px;height:18px;line-height:18px">13.5</div>
<div class="c" style="left:1449px;top:802px;width:41px;height:18px;line-height:18px">18.8</div>
<div class="c" style="left:490px;top:822px;width:91px;height:18px;line-height:18px">014.45.1250</div>
<div class="c" style="left:1271px;top:822px;width:41px;height:18px;line-height:18px">14</div>
<div class="c" style="left:1314px;top:822px;width:47px;height:18px;line-height:18px">1042</div>
<div class="c" style="left:1363px;top:822px;width:41px;height:18px;line-height:18px">75</div>
<div class="c" style="left:1406px;top:822px;width:41px;height:18px;line-height:18px">15.8</div>
<div class="c" style="left:1449px;top:822px;width:41px;height:18px;line-height:18px">21.9</div>
<div class="c" style="left:583px;top:801px;width:41px;height:38px;line-height:38px">1390</div>
<div class="c" style="left:626px;top:801px;width:41px;height:38px;line-height:38px">1110</div>
<div class="c" style="left:669px;top:801px;width:41px;height:38px;line-height:38px">110</div>
<div class="c" style="left:712px;top:801px;width:41px;height:38px;line-height:38px">1337</div>
<div class="c" style="left:755px;top:801px;width:41px;height:38px;line-height:38px">1163</div>
<div class="c" style="left:798px;top:801px;width:41px;height:38px;line-height:38px">40</div>
<div class="c" style="left:841px;top:801px;width:41px;height:38px;line-height:38px">26</div>
<div class="c" style="left:884px;top:801px;width:41px;height:38px;line-height:38px">M24</div>
<div class="c" style="left:927px;top:801px;width:41px;height:38px;line-height:38px">48</div>
<div class="c" style="left:970px;top:801px;width:41px;height:38px;line-height:38px">5</div>
<div class="c" style="left:1013px;top:801px;width:41px;height:38px;line-height:38px">1252</div>
<div class="c" style="left:1056px;top:801px;width:41px;height:38px;line-height:38px">1248</div>
<div class="c" style="left:1099px;top:801px;width:41px;height:38px;line-height:38px">100</div>
<div class="c" style="left:1142px;top:801px;width:41px;height:38px;line-height:38px">10</div>
<div class="c" style="left:1185px;top:801px;width:41px;height:38px;line-height:38px">90</div>
<div class="c" style="left:1228px;top:801px;width:41px;height:38px;line-height:38px">0.5</div>
<div class="c" style="left:1492px;top:801px;width:41px;height:38px;line-height:38px">420</div>
<div class="c" style="left:449px;top:841px;width:39px;height:37px;line-height:37px">13'</div>
<div class="c" style="left:490px;top:842px;width:91px;height:17px;line-height:17px">013.35.1250</div>
<div class="c" style="left:1271px;top:842px;width:41px;height:17px;line-height:17px">12</div>
<div class="c" style="left:1314px;top:842px;width:47px;height:17px;line-height:17px">1049</div>
<div class="c" style="left:1363px;top:842px;width:41px;height:17px;line-height:17px">88</div>
<div class="c" style="left:1406px;top:842px;width:41px;height:17px;line-height:17px">13.5</div>
<div class="c" style="left:1449px;top:842px;width:41px;height:17px;line-height:17px">18.8</div>
<div class="c" style="left:490px;top:861px;width:91px;height:18px;line-height:18px">014.35.1250</div>
<div class="c" style="left:1271px;top:861px;width:41px;height:18px;line-height:18px">14</div>
<div class="c" style="left:1314px;top:861px;width:47px;height:18px;line-height:18px">1042</div>
<div class="c" style="left:1363px;top:861px;width:41px;height:18px;line-height:18px">75</div>
<div class="c" style="left:1406px;top:861px;width:41px;height:18px;line-height:18px">15.8</div>
<div class="c" style="left:1449px;top:861px;width:41px;height:18px;line-height:18px">21.9</div>
<div class="c" style="left:583px;top:841px;width:41px;height:37px;line-height:37px">1390</div>
<div class="c" style="left:626px;top:841px;width:41px;height:37px;line-height:37px">1110</div>
<div class="c" style="left:669px;top:841px;width:41px;height:37px;line-height:37px">110</div>
<div class="c" style="left:712px;top:841px;width:41px;height:37px;line-height:37px">1337</div>
<div class="c" style="left:755px;top:841px;width:41px;height:37px;line-height:37px">1163</div>
<div class="c" style="left:798px;top:841px;width:41px;height:37px;line-height:37px">40</div>
<div class="c" style="left:841px;top:841px;width:41px;height:37px;line-height:37px">26</div>
<div class="c" style="left:884px;top:841px;width:41px;height:37px;line-height:37px">M24</div>
<div class="c" style="left:927px;top:841px;width:41px;height:37px;line-height:37px">48</div>
<div class="c" style="left:970px;top:841px;width:41px;height:37px;line-height:37px">5</div>
<div class="c" style="left:1013px;top:841px;width:41px;height:37px;line-height:37px">1251</div>
<div class="c" style="left:1056px;top:841px;width:41px;height:37px;line-height:37px">1248</div>
<div class="c" style="left:1099px;top:841px;width:41px;height:37px;line-height:37px">100</div>
<div class="c" style="left:1142px;top:841px;width:41px;height:37px;line-height:37px">10</div>
<div class="c" style="left:1185px;top:841px;width:41px;height:37px;line-height:37px">90</div>
<div class="c" style="left:1228px;top:841px;width:41px;height:37px;line-height:37px">0.5</div>
<div class="c" style="left:1492px;top:841px;width:41px;height:37px;line-height:37px">420</div>

</body></html>
